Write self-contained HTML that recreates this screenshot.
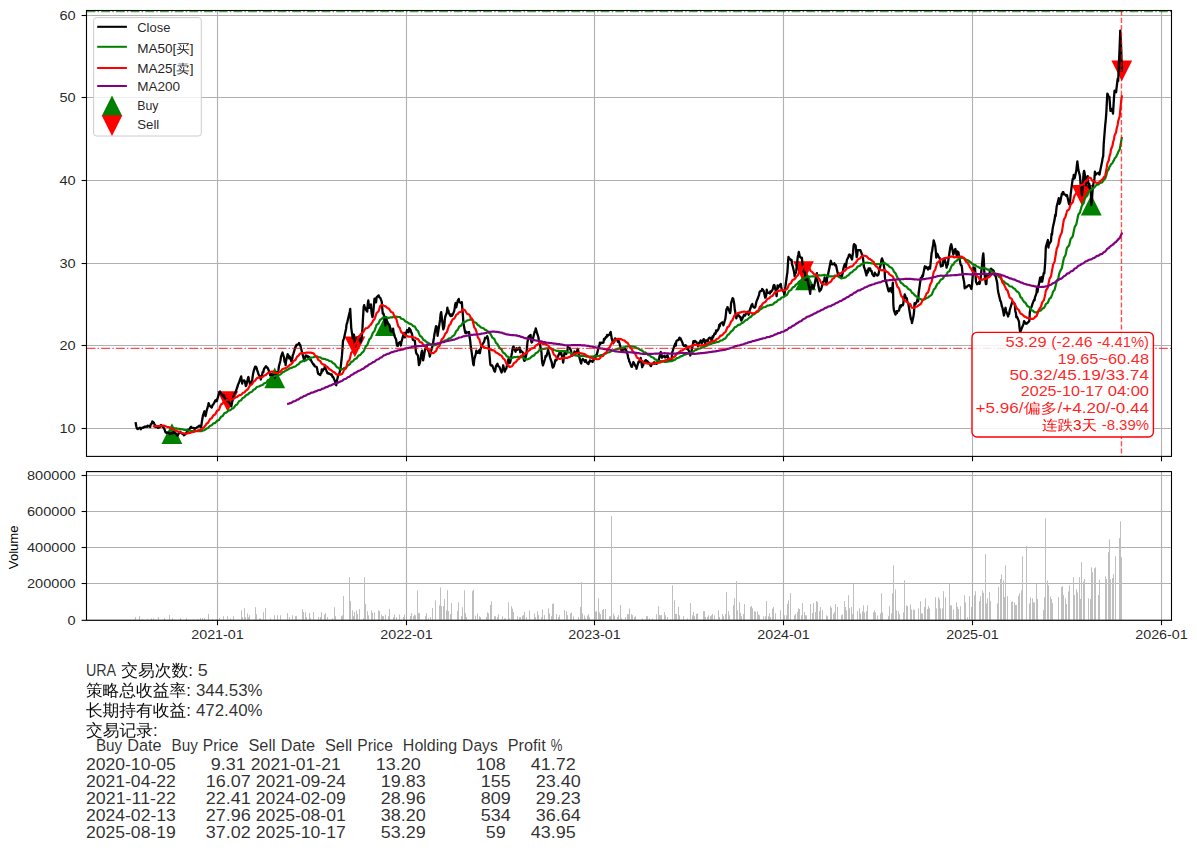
<!DOCTYPE html>
<html><head><meta charset="utf-8"><title>URA</title>
<style>html,body{margin:0;padding:0;background:#fff;}body{width:1197px;height:852px;overflow:hidden;position:relative;}</style>
</head><body>
<svg width="1197" height="852" viewBox="0 0 1197 852" style="position:absolute;left:0;top:0">
<rect x="0" y="0" width="1197" height="852" fill="#ffffff"/>
<defs><clipPath id="cm"><rect x="86.5" y="10.5" width="1085.0" height="445.9"/></clipPath>
<clipPath id="cv"><rect x="86.5" y="471.6" width="1085.0" height="148.7"/></clipPath></defs>
<g stroke="#b0b0b0" stroke-width="1.1" fill="none">
<line x1="217.50" y1="10.5" x2="217.50" y2="456.4"/>
<line x1="217.50" y1="471.6" x2="217.50" y2="620.3"/>
<line x1="406.50" y1="10.5" x2="406.50" y2="456.4"/>
<line x1="406.50" y1="471.6" x2="406.50" y2="620.3"/>
<line x1="594.50" y1="10.5" x2="594.50" y2="456.4"/>
<line x1="594.50" y1="471.6" x2="594.50" y2="620.3"/>
<line x1="783.50" y1="10.5" x2="783.50" y2="456.4"/>
<line x1="783.50" y1="471.6" x2="783.50" y2="620.3"/>
<line x1="972.50" y1="10.5" x2="972.50" y2="456.4"/>
<line x1="972.50" y1="471.6" x2="972.50" y2="620.3"/>
<line x1="1161.50" y1="10.5" x2="1161.50" y2="456.4"/>
<line x1="1161.50" y1="471.6" x2="1161.50" y2="620.3"/>
<line x1="86.5" y1="428.50" x2="1171.5" y2="428.50"/>
<line x1="86.5" y1="345.50" x2="1171.5" y2="345.50"/>
<line x1="86.5" y1="263.50" x2="1171.5" y2="263.50"/>
<line x1="86.5" y1="180.50" x2="1171.5" y2="180.50"/>
<line x1="86.5" y1="97.50" x2="1171.5" y2="97.50"/>
<line x1="86.5" y1="15.50" x2="1171.5" y2="15.50"/>
<line x1="86.5" y1="620.30" x2="1171.5" y2="620.30"/>
<line x1="86.5" y1="583.50" x2="1171.5" y2="583.50"/>
<line x1="86.5" y1="547.50" x2="1171.5" y2="547.50"/>
<line x1="86.5" y1="511.50" x2="1171.5" y2="511.50"/>
<line x1="86.5" y1="475.50" x2="1171.5" y2="475.50"/>
</g>
<g fill="#bfbfbf" clip-path="url(#cv)">
<rect x="135.0" y="617.1" width="1" height="3.2"/>
<rect x="139.0" y="616.2" width="1" height="4.1"/>
<rect x="142.0" y="619.2" width="1" height="1.1"/>
<rect x="147.0" y="619.2" width="1" height="1.1"/>
<rect x="151.0" y="618.4" width="1" height="1.9"/>
<rect x="153.0" y="618.4" width="1" height="1.9"/>
<rect x="158.0" y="617.1" width="1" height="3.2"/>
<rect x="164.0" y="618.0" width="1" height="2.3"/>
<rect x="169.0" y="615.0" width="1" height="5.3"/>
<rect x="172.0" y="618.0" width="1" height="2.3"/>
<rect x="180.0" y="618.0" width="1" height="2.3"/>
<rect x="186.0" y="618.4" width="1" height="1.9"/>
<rect x="193.0" y="619.2" width="1" height="1.1"/>
<rect x="197.0" y="619.2" width="1" height="1.1"/>
<rect x="200.0" y="618.0" width="1" height="2.3"/>
<rect x="202.0" y="618.0" width="1" height="2.3"/>
<rect x="204.0" y="618.0" width="1" height="2.3"/>
<rect x="208.0" y="614.0" width="1" height="6.3"/>
<rect x="212.0" y="619.2" width="1" height="1.1"/>
<rect x="216.0" y="619.2" width="1" height="1.1"/>
<rect x="219.0" y="618.0" width="1" height="2.3"/>
<rect x="223.0" y="616.2" width="1" height="4.1"/>
<rect x="227.0" y="616.2" width="1" height="4.1"/>
<rect x="230.0" y="618.4" width="1" height="1.9"/>
<rect x="233.0" y="616.2" width="1" height="4.1"/>
<rect x="241.0" y="610.2" width="1" height="10.1"/>
<rect x="242.0" y="617.1" width="1" height="3.2"/>
<rect x="244.0" y="608.1" width="1" height="12.2"/>
<rect x="245.0" y="617.1" width="1" height="3.2"/>
<rect x="247.0" y="613.4" width="1" height="6.9"/>
<rect x="248.0" y="617.1" width="1" height="3.2"/>
<rect x="249.0" y="615.2" width="1" height="5.1"/>
<rect x="255.0" y="607.2" width="1" height="13.1"/>
<rect x="256.0" y="614.2" width="1" height="6.1"/>
<rect x="259.0" y="618.4" width="1" height="1.9"/>
<rect x="260.0" y="618.4" width="1" height="1.9"/>
<rect x="263.0" y="612.2" width="1" height="8.1"/>
<rect x="265.0" y="608.1" width="1" height="12.2"/>
<rect x="270.0" y="618.3" width="1" height="2.0"/>
<rect x="274.0" y="615.2" width="1" height="5.1"/>
<rect x="277.0" y="615.2" width="1" height="5.1"/>
<rect x="280.0" y="615.3" width="1" height="5.0"/>
<rect x="287.0" y="613.1" width="1" height="7.2"/>
<rect x="289.0" y="617.0" width="1" height="3.3"/>
<rect x="292.0" y="615.3" width="1" height="5.0"/>
<rect x="295.0" y="616.1" width="1" height="4.2"/>
<rect x="296.0" y="616.1" width="1" height="4.2"/>
<rect x="302.0" y="609.1" width="1" height="11.2"/>
<rect x="303.0" y="612.0" width="1" height="8.3"/>
<rect x="305.0" y="612.3" width="1" height="8.0"/>
<rect x="306.0" y="617.0" width="1" height="3.3"/>
<rect x="309.0" y="613.1" width="1" height="7.2"/>
<rect x="310.0" y="617.8" width="1" height="2.5"/>
<rect x="313.0" y="612.0" width="1" height="8.3"/>
<rect x="318.0" y="617.0" width="1" height="3.3"/>
<rect x="320.0" y="617.0" width="1" height="3.3"/>
<rect x="321.0" y="612.0" width="1" height="8.3"/>
<rect x="324.0" y="614.5" width="1" height="5.8"/>
<rect x="325.0" y="613.1" width="1" height="7.2"/>
<rect x="327.0" y="617.0" width="1" height="3.3"/>
<rect x="332.0" y="618.3" width="1" height="2.0"/>
<rect x="334.0" y="607.3" width="1" height="13.0"/>
<rect x="335.0" y="616.1" width="1" height="4.2"/>
<rect x="341.0" y="616.1" width="1" height="4.2"/>
<rect x="342.0" y="615.3" width="1" height="5.0"/>
<rect x="343.0" y="596.1" width="1" height="24.2"/>
<rect x="349.0" y="577.4" width="1" height="42.9"/>
<rect x="350.0" y="601.1" width="1" height="19.2"/>
<rect x="352.0" y="610.3" width="1" height="10.0"/>
<rect x="353.0" y="616.1" width="1" height="4.2"/>
<rect x="354.0" y="612.0" width="1" height="8.3"/>
<rect x="356.0" y="610.3" width="1" height="10.0"/>
<rect x="357.0" y="614.1" width="1" height="6.2"/>
<rect x="359.0" y="609.1" width="1" height="11.2"/>
<rect x="363.0" y="618.3" width="1" height="2.0"/>
<rect x="364.0" y="577.4" width="1" height="42.9"/>
<rect x="365.0" y="604.1" width="1" height="16.2"/>
<rect x="367.0" y="611.1" width="1" height="9.2"/>
<rect x="368.0" y="615.3" width="1" height="5.0"/>
<rect x="371.0" y="610.3" width="1" height="10.0"/>
<rect x="372.0" y="612.8" width="1" height="7.5"/>
<rect x="374.0" y="612.3" width="1" height="8.0"/>
<rect x="378.0" y="610.3" width="1" height="10.0"/>
<rect x="379.0" y="611.1" width="1" height="9.2"/>
<rect x="381.0" y="614.5" width="1" height="5.8"/>
<rect x="382.0" y="616.1" width="1" height="4.2"/>
<rect x="383.0" y="616.1" width="1" height="4.2"/>
<rect x="385.0" y="614.5" width="1" height="5.8"/>
<rect x="388.0" y="616.1" width="1" height="4.2"/>
<rect x="389.0" y="609.1" width="1" height="11.2"/>
<rect x="393.0" y="617.0" width="1" height="3.3"/>
<rect x="394.0" y="614.5" width="1" height="5.8"/>
<rect x="396.0" y="617.0" width="1" height="3.3"/>
<rect x="399.0" y="614.5" width="1" height="5.8"/>
<rect x="403.0" y="617.0" width="1" height="3.3"/>
<rect x="404.0" y="614.5" width="1" height="5.8"/>
<rect x="410.0" y="616.1" width="1" height="4.2"/>
<rect x="411.0" y="613.1" width="1" height="7.2"/>
<rect x="413.0" y="616.1" width="1" height="4.2"/>
<rect x="414.0" y="614.5" width="1" height="5.8"/>
<rect x="415.0" y="615.3" width="1" height="5.0"/>
<rect x="417.0" y="590.3" width="1" height="30.0"/>
<rect x="418.0" y="613.1" width="1" height="7.2"/>
<rect x="419.0" y="613.1" width="1" height="7.2"/>
<rect x="425.0" y="616.1" width="1" height="4.2"/>
<rect x="426.0" y="613.1" width="1" height="7.2"/>
<rect x="428.0" y="618.3" width="1" height="2.0"/>
<rect x="430.0" y="617.0" width="1" height="3.3"/>
<rect x="432.0" y="608.1" width="1" height="12.2"/>
<rect x="435.0" y="600.3" width="1" height="20.0"/>
<rect x="439.0" y="605.3" width="1" height="15.0"/>
<rect x="440.0" y="587.4" width="1" height="32.9"/>
<rect x="441.0" y="606.1" width="1" height="14.2"/>
<rect x="443.0" y="606.1" width="1" height="14.2"/>
<rect x="444.0" y="599.1" width="1" height="21.2"/>
<rect x="446.0" y="610.3" width="1" height="10.0"/>
<rect x="447.0" y="590.3" width="1" height="30.0"/>
<rect x="448.0" y="611.1" width="1" height="9.2"/>
<rect x="450.0" y="614.1" width="1" height="6.2"/>
<rect x="451.0" y="603.1" width="1" height="17.2"/>
<rect x="457.0" y="611.1" width="1" height="9.2"/>
<rect x="458.0" y="602.3" width="1" height="18.0"/>
<rect x="461.0" y="616.1" width="1" height="4.2"/>
<rect x="462.0" y="607.3" width="1" height="13.0"/>
<rect x="464.0" y="590.3" width="1" height="30.0"/>
<rect x="465.0" y="613.1" width="1" height="7.2"/>
<rect x="466.0" y="617.0" width="1" height="3.3"/>
<rect x="472.0" y="591.2" width="1" height="29.1"/>
<rect x="473.0" y="589.5" width="1" height="30.8"/>
<rect x="475.0" y="615.7" width="1" height="4.6"/>
<rect x="477.0" y="613.4" width="1" height="6.9"/>
<rect x="479.0" y="616.2" width="1" height="4.1"/>
<rect x="480.0" y="617.1" width="1" height="3.2"/>
<rect x="486.0" y="617.1" width="1" height="3.2"/>
<rect x="487.0" y="612.4" width="1" height="7.9"/>
<rect x="488.0" y="613.4" width="1" height="6.9"/>
<rect x="490.0" y="605.0" width="1" height="15.3"/>
<rect x="491.0" y="601.2" width="1" height="19.1"/>
<rect x="494.0" y="616.2" width="1" height="4.1"/>
<rect x="495.0" y="616.2" width="1" height="4.1"/>
<rect x="497.0" y="617.1" width="1" height="3.2"/>
<rect x="498.0" y="614.2" width="1" height="6.1"/>
<rect x="502.0" y="616.2" width="1" height="4.1"/>
<rect x="504.0" y="618.4" width="1" height="1.9"/>
<rect x="505.0" y="618.4" width="1" height="1.9"/>
<rect x="508.0" y="602.4" width="1" height="17.9"/>
<rect x="509.0" y="618.4" width="1" height="1.9"/>
<rect x="511.0" y="606.2" width="1" height="14.1"/>
<rect x="512.0" y="608.7" width="1" height="11.6"/>
<rect x="513.0" y="612.0" width="1" height="8.3"/>
<rect x="517.0" y="616.2" width="1" height="4.1"/>
<rect x="519.0" y="617.1" width="1" height="3.2"/>
<rect x="520.0" y="617.1" width="1" height="3.2"/>
<rect x="522.0" y="615.7" width="1" height="4.6"/>
<rect x="523.0" y="615.1" width="1" height="5.2"/>
<rect x="524.0" y="612.0" width="1" height="8.3"/>
<rect x="526.0" y="617.1" width="1" height="3.2"/>
<rect x="529.0" y="610.4" width="1" height="9.9"/>
<rect x="534.0" y="613.4" width="1" height="6.9"/>
<rect x="535.0" y="617.1" width="1" height="3.2"/>
<rect x="537.0" y="611.2" width="1" height="9.1"/>
<rect x="538.0" y="615.1" width="1" height="5.2"/>
<rect x="541.0" y="617.1" width="1" height="3.2"/>
<rect x="542.0" y="609.5" width="1" height="10.8"/>
<rect x="544.0" y="615.1" width="1" height="5.2"/>
<rect x="548.0" y="608.4" width="1" height="11.9"/>
<rect x="549.0" y="613.4" width="1" height="6.9"/>
<rect x="551.0" y="616.2" width="1" height="4.1"/>
<rect x="552.0" y="604.0" width="1" height="16.3"/>
<rect x="553.0" y="603.4" width="1" height="16.9"/>
<rect x="556.0" y="614.2" width="1" height="6.1"/>
<rect x="558.0" y="617.1" width="1" height="3.2"/>
<rect x="559.0" y="615.1" width="1" height="5.2"/>
<rect x="564.0" y="610.0" width="1" height="10.3"/>
<rect x="566.0" y="611.2" width="1" height="9.1"/>
<rect x="567.0" y="615.1" width="1" height="5.2"/>
<rect x="570.0" y="613.4" width="1" height="6.9"/>
<rect x="571.0" y="612.4" width="1" height="7.9"/>
<rect x="573.0" y="616.2" width="1" height="4.1"/>
<rect x="578.0" y="617.1" width="1" height="3.2"/>
<rect x="580.0" y="607.0" width="1" height="13.3"/>
<rect x="581.0" y="582.0" width="1" height="38.3"/>
<rect x="582.0" y="613.4" width="1" height="6.9"/>
<rect x="584.0" y="615.4" width="1" height="4.9"/>
<rect x="585.0" y="618.4" width="1" height="1.9"/>
<rect x="587.0" y="615.7" width="1" height="4.6"/>
<rect x="588.0" y="614.2" width="1" height="6.1"/>
<rect x="589.0" y="617.1" width="1" height="3.2"/>
<rect x="595.0" y="611.7" width="1" height="8.6"/>
<rect x="596.0" y="611.2" width="1" height="9.1"/>
<rect x="598.0" y="598.3" width="1" height="22.0"/>
<rect x="599.0" y="612.4" width="1" height="7.9"/>
<rect x="600.0" y="614.2" width="1" height="6.1"/>
<rect x="602.0" y="610.0" width="1" height="10.3"/>
<rect x="603.0" y="609.0" width="1" height="11.3"/>
<rect x="605.0" y="609.0" width="1" height="11.3"/>
<rect x="609.0" y="616.2" width="1" height="4.1"/>
<rect x="610.0" y="616.2" width="1" height="4.1"/>
<rect x="611.0" y="516.0" width="1" height="104.3"/>
<rect x="613.0" y="613.4" width="1" height="6.9"/>
<rect x="614.0" y="615.7" width="1" height="4.6"/>
<rect x="617.0" y="617.1" width="1" height="3.2"/>
<rect x="618.0" y="615.1" width="1" height="5.2"/>
<rect x="620.0" y="605.0" width="1" height="15.3"/>
<rect x="621.0" y="618.4" width="1" height="1.9"/>
<rect x="625.0" y="617.1" width="1" height="3.2"/>
<rect x="627.0" y="614.2" width="1" height="6.1"/>
<rect x="628.0" y="614.2" width="1" height="6.1"/>
<rect x="629.0" y="608.4" width="1" height="11.9"/>
<rect x="631.0" y="614.2" width="1" height="6.1"/>
<rect x="632.0" y="615.1" width="1" height="5.2"/>
<rect x="634.0" y="617.1" width="1" height="3.2"/>
<rect x="635.0" y="616.2" width="1" height="4.1"/>
<rect x="642.0" y="618.4" width="1" height="1.9"/>
<rect x="646.0" y="616.2" width="1" height="4.1"/>
<rect x="647.0" y="616.2" width="1" height="4.1"/>
<rect x="649.0" y="618.4" width="1" height="1.9"/>
<rect x="652.0" y="618.4" width="1" height="1.9"/>
<rect x="656.0" y="614.2" width="1" height="6.1"/>
<rect x="658.0" y="606.2" width="1" height="14.1"/>
<rect x="659.0" y="615.1" width="1" height="5.2"/>
<rect x="660.0" y="615.3" width="1" height="5.0"/>
<rect x="661.0" y="615.1" width="1" height="5.2"/>
<rect x="664.0" y="612.0" width="1" height="8.3"/>
<rect x="665.0" y="615.3" width="1" height="5.0"/>
<rect x="667.0" y="617.0" width="1" height="3.3"/>
<rect x="672.0" y="585.3" width="1" height="35.0"/>
<rect x="674.0" y="600.3" width="1" height="20.0"/>
<rect x="675.0" y="614.0" width="1" height="6.3"/>
<rect x="676.0" y="614.0" width="1" height="6.3"/>
<rect x="678.0" y="607.0" width="1" height="13.3"/>
<rect x="679.0" y="615.3" width="1" height="5.0"/>
<rect x="683.0" y="616.2" width="1" height="4.1"/>
<rect x="687.0" y="618.3" width="1" height="2.0"/>
<rect x="690.0" y="603.1" width="1" height="17.2"/>
<rect x="692.0" y="615.3" width="1" height="5.0"/>
<rect x="693.0" y="612.0" width="1" height="8.3"/>
<rect x="694.0" y="616.2" width="1" height="4.1"/>
<rect x="696.0" y="614.0" width="1" height="6.3"/>
<rect x="697.0" y="613.3" width="1" height="7.0"/>
<rect x="703.0" y="611.2" width="1" height="9.1"/>
<rect x="704.0" y="611.2" width="1" height="9.1"/>
<rect x="705.0" y="617.0" width="1" height="3.3"/>
<rect x="707.0" y="617.0" width="1" height="3.3"/>
<rect x="708.0" y="615.3" width="1" height="5.0"/>
<rect x="710.0" y="616.2" width="1" height="4.1"/>
<rect x="711.0" y="615.3" width="1" height="5.0"/>
<rect x="712.0" y="614.0" width="1" height="6.3"/>
<rect x="714.0" y="615.3" width="1" height="5.0"/>
<rect x="718.0" y="610.3" width="1" height="10.0"/>
<rect x="719.0" y="617.0" width="1" height="3.3"/>
<rect x="722.0" y="614.0" width="1" height="6.3"/>
<rect x="723.0" y="616.2" width="1" height="4.1"/>
<rect x="725.0" y="614.0" width="1" height="6.3"/>
<rect x="726.0" y="591.9" width="1" height="28.4"/>
<rect x="728.0" y="611.2" width="1" height="9.1"/>
<rect x="729.0" y="615.3" width="1" height="5.0"/>
<rect x="733.0" y="605.3" width="1" height="15.0"/>
<rect x="734.0" y="598.1" width="1" height="22.2"/>
<rect x="736.0" y="581.1" width="1" height="39.2"/>
<rect x="737.0" y="610.3" width="1" height="10.0"/>
<rect x="739.0" y="602.0" width="1" height="18.3"/>
<rect x="740.0" y="612.8" width="1" height="7.5"/>
<rect x="741.0" y="616.2" width="1" height="4.1"/>
<rect x="743.0" y="614.0" width="1" height="6.3"/>
<rect x="744.0" y="604.1" width="1" height="16.2"/>
<rect x="750.0" y="607.0" width="1" height="13.3"/>
<rect x="751.0" y="606.1" width="1" height="14.2"/>
<rect x="752.0" y="608.3" width="1" height="12.0"/>
<rect x="754.0" y="611.2" width="1" height="9.1"/>
<rect x="755.0" y="611.7" width="1" height="8.6"/>
<rect x="757.0" y="611.2" width="1" height="9.1"/>
<rect x="758.0" y="614.5" width="1" height="5.8"/>
<rect x="759.0" y="615.3" width="1" height="5.0"/>
<rect x="763.0" y="616.2" width="1" height="4.1"/>
<rect x="765.0" y="616.2" width="1" height="4.1"/>
<rect x="766.0" y="601.1" width="1" height="19.2"/>
<rect x="768.0" y="616.2" width="1" height="4.1"/>
<rect x="769.0" y="613.3" width="1" height="7.0"/>
<rect x="770.0" y="617.0" width="1" height="3.3"/>
<rect x="772.0" y="608.7" width="1" height="11.6"/>
<rect x="773.0" y="607.0" width="1" height="13.3"/>
<rect x="775.0" y="613.3" width="1" height="7.0"/>
<rect x="780.0" y="610.3" width="1" height="10.0"/>
<rect x="784.0" y="615.3" width="1" height="5.0"/>
<rect x="786.0" y="615.3" width="1" height="5.0"/>
<rect x="787.0" y="604.0" width="1" height="16.3"/>
<rect x="788.0" y="600.3" width="1" height="20.0"/>
<rect x="790.0" y="593.1" width="1" height="27.2"/>
<rect x="794.0" y="615.3" width="1" height="5.0"/>
<rect x="795.0" y="614.0" width="1" height="6.3"/>
<rect x="797.0" y="612.0" width="1" height="8.3"/>
<rect x="798.0" y="608.2" width="1" height="12.1"/>
<rect x="799.0" y="609.0" width="1" height="11.3"/>
<rect x="801.0" y="615.3" width="1" height="5.0"/>
<rect x="802.0" y="603.1" width="1" height="17.2"/>
<rect x="804.0" y="612.0" width="1" height="8.3"/>
<rect x="805.0" y="615.3" width="1" height="5.0"/>
<rect x="806.0" y="615.3" width="1" height="5.0"/>
<rect x="810.0" y="604.1" width="1" height="16.2"/>
<rect x="812.0" y="612.8" width="1" height="7.5"/>
<rect x="813.0" y="603.1" width="1" height="17.2"/>
<rect x="815.0" y="612.0" width="1" height="8.3"/>
<rect x="816.0" y="601.1" width="1" height="19.2"/>
<rect x="817.0" y="602.0" width="1" height="18.3"/>
<rect x="819.0" y="611.2" width="1" height="9.1"/>
<rect x="820.0" y="607.0" width="1" height="13.3"/>
<rect x="822.0" y="610.3" width="1" height="10.0"/>
<rect x="826.0" y="615.3" width="1" height="5.0"/>
<rect x="827.0" y="616.2" width="1" height="4.1"/>
<rect x="830.0" y="606.1" width="1" height="14.2"/>
<rect x="831.0" y="607.8" width="1" height="12.5"/>
<rect x="833.0" y="613.7" width="1" height="6.6"/>
<rect x="834.0" y="612.0" width="1" height="8.3"/>
<rect x="835.0" y="604.1" width="1" height="16.2"/>
<rect x="837.0" y="607.0" width="1" height="13.3"/>
<rect x="841.0" y="615.3" width="1" height="5.0"/>
<rect x="842.0" y="614.5" width="1" height="5.8"/>
<rect x="844.0" y="601.1" width="1" height="19.2"/>
<rect x="845.0" y="607.0" width="1" height="13.3"/>
<rect x="846.0" y="610.3" width="1" height="10.0"/>
<rect x="848.0" y="595.3" width="1" height="25.0"/>
<rect x="849.0" y="608.2" width="1" height="12.1"/>
<rect x="851.0" y="607.0" width="1" height="13.3"/>
<rect x="852.0" y="614.0" width="1" height="6.3"/>
<rect x="853.0" y="583.6" width="1" height="36.7"/>
<rect x="857.0" y="611.2" width="1" height="9.1"/>
<rect x="859.0" y="608.4" width="1" height="11.9"/>
<rect x="860.0" y="613.4" width="1" height="6.9"/>
<rect x="862.0" y="611.2" width="1" height="9.1"/>
<rect x="863.0" y="605.4" width="1" height="14.9"/>
<rect x="864.0" y="612.4" width="1" height="7.9"/>
<rect x="866.0" y="611.2" width="1" height="9.1"/>
<rect x="867.0" y="605.4" width="1" height="14.9"/>
<rect x="873.0" y="612.4" width="1" height="7.9"/>
<rect x="874.0" y="610.4" width="1" height="9.9"/>
<rect x="875.0" y="612.4" width="1" height="7.9"/>
<rect x="877.0" y="615.4" width="1" height="4.9"/>
<rect x="880.0" y="613.4" width="1" height="6.9"/>
<rect x="881.0" y="593.3" width="1" height="27.0"/>
<rect x="882.0" y="612.4" width="1" height="7.9"/>
<rect x="888.0" y="616.2" width="1" height="4.1"/>
<rect x="889.0" y="606.2" width="1" height="14.1"/>
<rect x="891.0" y="613.4" width="1" height="6.9"/>
<rect x="892.0" y="593.3" width="1" height="27.0"/>
<rect x="893.0" y="565.3" width="1" height="55.0"/>
<rect x="895.0" y="589.5" width="1" height="30.8"/>
<rect x="896.0" y="610.4" width="1" height="9.9"/>
<rect x="898.0" y="611.2" width="1" height="9.1"/>
<rect x="899.0" y="614.2" width="1" height="6.1"/>
<rect x="903.0" y="612.4" width="1" height="7.9"/>
<rect x="904.0" y="580.3" width="1" height="40.0"/>
<rect x="906.0" y="605.4" width="1" height="14.9"/>
<rect x="907.0" y="606.2" width="1" height="14.1"/>
<rect x="910.0" y="604.5" width="1" height="15.8"/>
<rect x="911.0" y="609.5" width="1" height="10.8"/>
<rect x="913.0" y="609.5" width="1" height="10.8"/>
<rect x="914.0" y="610.0" width="1" height="10.3"/>
<rect x="918.0" y="608.4" width="1" height="11.9"/>
<rect x="920.0" y="601.2" width="1" height="19.1"/>
<rect x="921.0" y="613.4" width="1" height="6.9"/>
<rect x="922.0" y="613.4" width="1" height="6.9"/>
<rect x="924.0" y="607.0" width="1" height="13.3"/>
<rect x="925.0" y="598.3" width="1" height="22.0"/>
<rect x="927.0" y="609.0" width="1" height="11.3"/>
<rect x="928.0" y="606.2" width="1" height="14.1"/>
<rect x="929.0" y="608.4" width="1" height="11.9"/>
<rect x="935.0" y="597.3" width="1" height="23.0"/>
<rect x="936.0" y="608.4" width="1" height="11.9"/>
<rect x="938.0" y="597.3" width="1" height="23.0"/>
<rect x="939.0" y="599.5" width="1" height="20.8"/>
<rect x="940.0" y="608.4" width="1" height="11.9"/>
<rect x="942.0" y="608.4" width="1" height="11.9"/>
<rect x="943.0" y="591.2" width="1" height="29.1"/>
<rect x="945.0" y="597.3" width="1" height="23.0"/>
<rect x="949.0" y="584.0" width="1" height="36.3"/>
<rect x="950.0" y="605.4" width="1" height="14.9"/>
<rect x="951.0" y="605.4" width="1" height="14.9"/>
<rect x="953.0" y="609.5" width="1" height="10.8"/>
<rect x="956.0" y="602.4" width="1" height="17.9"/>
<rect x="957.0" y="607.0" width="1" height="13.3"/>
<rect x="958.0" y="609.0" width="1" height="11.3"/>
<rect x="960.0" y="606.2" width="1" height="14.1"/>
<rect x="964.0" y="595.3" width="1" height="25.0"/>
<rect x="965.0" y="602.4" width="1" height="17.9"/>
<rect x="967.0" y="617.1" width="1" height="3.2"/>
<rect x="969.0" y="596.2" width="1" height="24.1"/>
<rect x="971.0" y="607.0" width="1" height="13.3"/>
<rect x="974.0" y="595.3" width="1" height="25.0"/>
<rect x="975.0" y="591.2" width="1" height="29.1"/>
<rect x="979.0" y="601.2" width="1" height="19.1"/>
<rect x="980.0" y="596.2" width="1" height="24.1"/>
<rect x="982.0" y="590.3" width="1" height="30.0"/>
<rect x="983.0" y="592.8" width="1" height="27.5"/>
<rect x="985.0" y="554.1" width="1" height="66.2"/>
<rect x="986.0" y="603.4" width="1" height="16.9"/>
<rect x="987.0" y="598.3" width="1" height="22.0"/>
<rect x="989.0" y="592.0" width="1" height="28.3"/>
<rect x="990.0" y="601.2" width="1" height="19.1"/>
<rect x="997.0" y="603.4" width="1" height="16.9"/>
<rect x="998.0" y="587.0" width="1" height="33.3"/>
<rect x="1000.0" y="579.0" width="1" height="41.3"/>
<rect x="1001.0" y="574.5" width="1" height="45.8"/>
<rect x="1003.0" y="580.3" width="1" height="40.0"/>
<rect x="1004.0" y="597.0" width="1" height="23.3"/>
<rect x="1005.0" y="565.3" width="1" height="55.0"/>
<rect x="1007.0" y="596.2" width="1" height="24.1"/>
<rect x="1011.0" y="602.0" width="1" height="18.3"/>
<rect x="1012.0" y="601.2" width="1" height="19.1"/>
<rect x="1014.0" y="602.4" width="1" height="17.9"/>
<rect x="1015.0" y="605.0" width="1" height="15.3"/>
<rect x="1016.0" y="605.0" width="1" height="15.3"/>
<rect x="1018.0" y="596.2" width="1" height="24.1"/>
<rect x="1019.0" y="593.3" width="1" height="27.0"/>
<rect x="1021.0" y="590.3" width="1" height="30.0"/>
<rect x="1022.0" y="556.4" width="1" height="63.9"/>
<rect x="1026.0" y="546.0" width="1" height="74.3"/>
<rect x="1029.0" y="603.4" width="1" height="16.9"/>
<rect x="1030.0" y="597.3" width="1" height="23.0"/>
<rect x="1032.0" y="598.3" width="1" height="22.0"/>
<rect x="1033.0" y="602.4" width="1" height="17.9"/>
<rect x="1034.0" y="602.4" width="1" height="17.9"/>
<rect x="1036.0" y="584.0" width="1" height="36.3"/>
<rect x="1037.0" y="599.0" width="1" height="21.3"/>
<rect x="1043.0" y="610.0" width="1" height="10.3"/>
<rect x="1044.0" y="597.3" width="1" height="23.0"/>
<rect x="1045.0" y="518.3" width="1" height="102.0"/>
<rect x="1047.0" y="580.5" width="1" height="39.8"/>
<rect x="1048.0" y="585.3" width="1" height="35.0"/>
<rect x="1050.0" y="596.5" width="1" height="23.8"/>
<rect x="1051.0" y="599.0" width="1" height="21.3"/>
<rect x="1052.0" y="603.1" width="1" height="17.2"/>
<rect x="1058.0" y="597.2" width="1" height="23.1"/>
<rect x="1061.0" y="587.1" width="1" height="33.2"/>
<rect x="1062.0" y="586.2" width="1" height="34.1"/>
<rect x="1063.0" y="595.1" width="1" height="25.2"/>
<rect x="1065.0" y="598.3" width="1" height="22.0"/>
<rect x="1066.0" y="604.0" width="1" height="16.3"/>
<rect x="1068.0" y="591.5" width="1" height="28.8"/>
<rect x="1069.0" y="585.3" width="1" height="35.0"/>
<rect x="1073.0" y="577.2" width="1" height="43.1"/>
<rect x="1074.0" y="595.1" width="1" height="25.2"/>
<rect x="1076.0" y="589.4" width="1" height="30.9"/>
<rect x="1077.0" y="592.4" width="1" height="27.9"/>
<rect x="1079.0" y="577.2" width="1" height="43.1"/>
<rect x="1080.0" y="599.0" width="1" height="21.3"/>
<rect x="1081.0" y="562.1" width="1" height="58.2"/>
<rect x="1083.0" y="581.7" width="1" height="38.6"/>
<rect x="1084.0" y="579.0" width="1" height="41.3"/>
<rect x="1088.0" y="598.3" width="1" height="22.0"/>
<rect x="1090.0" y="599.0" width="1" height="21.3"/>
<rect x="1091.0" y="567.4" width="1" height="52.9"/>
<rect x="1092.0" y="572.2" width="1" height="48.1"/>
<rect x="1094.0" y="568.3" width="1" height="52.0"/>
<rect x="1095.0" y="567.4" width="1" height="52.9"/>
<rect x="1098.0" y="595.1" width="1" height="25.2"/>
<rect x="1099.0" y="579.4" width="1" height="40.9"/>
<rect x="1105.0" y="576.3" width="1" height="44.0"/>
<rect x="1106.0" y="579.0" width="1" height="41.3"/>
<rect x="1108.0" y="552.2" width="1" height="68.1"/>
<rect x="1109.0" y="539.4" width="1" height="80.9"/>
<rect x="1110.0" y="579.4" width="1" height="40.9"/>
<rect x="1112.0" y="578.1" width="1" height="42.2"/>
<rect x="1113.0" y="574.2" width="1" height="46.1"/>
<rect x="1115.0" y="556.3" width="1" height="64.0"/>
<rect x="1119.0" y="538.0" width="1" height="82.3"/>
<rect x="1120.0" y="521.3" width="1" height="99.0"/>
<rect x="1121.0" y="557.2" width="1" height="63.1"/>
</g>
<g clip-path="url(#cm)">
<polygon fill="#008000" points="171.92,423.29 161.52,444.09 182.32,444.09"/>
<polygon fill="#008000" points="274.76,367.53 264.36,388.33 285.16,388.33"/>
<polygon fill="#008000" points="385.36,315.23 374.96,336.03 395.76,336.03"/>
<polygon fill="#008000" points="805.52,269.45 795.12,290.25 815.92,290.25"/>
<polygon fill="#008000" points="1091.31,194.71 1080.91,215.51 1101.71,215.51"/>
<polygon fill="#ff0000" points="227.74,412.00 217.34,391.20 238.14,391.20"/>
<polygon fill="#ff0000" points="354.87,357.31 344.47,336.51 365.27,336.51"/>
<polygon fill="#ff0000" points="803.45,282.00 793.05,261.20 813.85,261.20"/>
<polygon fill="#ff0000" points="1082.01,205.78 1071.61,184.98 1092.41,184.98"/>
<polygon fill="#ff0000" points="1121.80,81.30 1111.40,60.50 1132.20,60.50"/>
<polyline fill="none" stroke="#000000" stroke-width="2.3" stroke-linejoin="round" stroke-linecap="square" points="135.75,423.20 136.26,426.27 136.78,428.02 137.30,428.89 137.81,429.01 139.88,427.63 140.40,427.97 140.91,429.23 141.43,428.09 142.98,427.50 143.50,427.77 144.01,427.20 144.53,426.61 145.05,426.81 146.60,426.30 147.12,426.87 147.63,425.67 148.15,425.89 148.67,426.02 150.22,427.11 150.73,424.35 151.25,424.17 151.77,423.47 152.28,421.44 153.83,422.63 154.35,423.91 154.87,424.98 155.38,427.04 155.90,425.73 157.97,427.93 158.48,427.68 159.00,426.28 159.52,427.35 161.07,424.91 161.59,425.94 162.10,425.85 162.62,427.14 163.14,426.70 164.69,429.66 165.20,431.78 165.72,432.21 166.24,432.98 166.75,432.44 168.30,432.61 169.34,433.66 169.85,434.04 170.37,433.27 171.92,433.69 172.44,432.93 172.96,433.08 173.47,431.67 173.99,432.76 175.54,433.58 176.06,433.79 176.57,434.38 177.09,434.86 177.61,435.79 179.16,432.56 179.67,432.53 180.19,431.71 180.71,432.34 181.22,432.96 182.77,433.97 183.29,434.21 183.81,435.36 184.32,435.06 184.84,434.67 186.39,432.83 186.91,431.86 187.43,431.71 187.94,429.79 188.46,430.21 190.01,428.50 190.53,427.29 191.04,426.80 191.56,427.85 192.08,427.68 193.63,427.84 194.14,428.47 194.66,429.41 195.18,428.19 195.69,428.15 197.24,427.34 198.28,426.52 199.31,425.62 200.86,427.38 201.38,425.30 201.90,421.56 202.41,418.48 202.93,415.70 204.48,411.24 205.00,412.20 205.51,416.12 206.03,414.00 206.55,411.09 208.10,405.59 208.61,403.13 209.13,404.49 209.65,405.71 210.16,406.19 211.72,407.55 212.23,405.97 212.75,404.60 213.27,404.52 215.33,400.47 215.85,401.31 216.37,399.96 216.88,400.95 218.95,393.37 219.47,392.08 219.98,391.46 220.50,392.53 221.02,393.49 222.57,395.20 223.08,396.34 223.60,395.08 224.12,395.82 224.64,397.88 226.70,400.72 227.22,399.17 227.74,401.60 228.25,401.57 230.32,404.10 230.84,405.34 231.35,406.37 231.87,403.53 233.42,396.35 233.94,395.21 234.45,393.53 234.97,392.81 235.49,392.28 237.04,387.81 237.56,386.48 238.07,384.36 238.59,383.51 239.11,382.24 241.17,376.35 241.69,380.37 242.21,383.62 242.72,380.89 244.27,380.31 244.79,381.08 245.31,383.73 245.82,386.00 246.34,385.33 247.89,378.41 248.41,376.98 248.92,379.58 249.44,381.25 249.96,384.41 251.51,382.26 252.03,381.29 252.54,377.42 253.06,374.13 253.58,371.42 255.13,366.70 255.64,368.37 256.16,366.95 256.68,368.21 257.19,370.08 258.74,374.77 259.78,376.32 260.29,376.81 260.81,379.54 262.36,373.64 262.88,371.66 263.40,371.82 263.91,369.18 265.98,366.10 266.50,366.76 267.01,367.66 267.53,367.62 268.05,368.79 269.60,372.61 270.11,375.32 270.63,374.82 271.15,374.07 271.66,374.64 273.21,376.85 273.73,375.28 274.25,376.44 274.76,377.93 275.28,375.73 276.83,372.31 277.35,372.42 277.87,373.33 278.38,370.72 278.90,366.50 280.45,360.51 280.97,356.80 281.48,355.31 282.00,354.02 282.52,352.53 284.07,357.77 284.58,361.74 285.10,360.51 285.62,365.08 286.13,360.61 287.68,354.20 288.20,355.13 289.24,358.44 289.75,356.49 291.30,361.47 291.82,360.65 292.34,357.95 292.85,355.07 293.37,353.82 295.44,346.78 295.95,346.58 296.47,344.76 296.99,345.08 298.54,343.92 299.05,342.94 299.57,344.67 300.09,344.59 300.60,346.48 302.16,352.74 302.67,354.42 303.19,356.97 303.71,358.51 304.22,361.07 305.77,355.39 306.29,355.98 306.81,355.67 307.32,356.90 307.84,356.24 309.39,357.27 309.91,359.58 310.42,359.80 310.94,359.86 311.46,361.25 313.52,364.79 314.04,364.44 314.56,366.25 315.08,366.30 316.63,366.94 317.14,368.72 317.66,371.82 318.18,373.71 320.24,375.02 320.76,373.46 321.28,373.13 321.79,369.41 322.31,371.55 323.86,368.79 324.38,368.81 324.89,365.34 325.41,368.43 325.93,369.33 327.48,373.41 328.00,372.80 328.51,373.35 329.03,373.81 329.55,373.69 331.10,374.83 331.61,374.29 332.13,376.01 332.65,377.14 333.16,376.96 334.71,380.67 335.23,382.26 335.75,384.72 336.26,385.17 336.78,381.31 338.33,374.75 338.85,374.44 339.36,373.43 339.88,371.16 340.40,369.97 341.95,355.63 342.47,349.13 342.98,341.17 343.50,339.55 344.02,338.33 346.08,328.67 346.60,324.16 347.12,323.11 347.63,320.85 349.70,312.01 350.22,308.97 350.73,318.60 351.25,328.12 352.80,338.40 353.32,336.13 353.84,334.50 354.35,336.64 354.87,346.91 356.42,340.88 356.94,340.44 357.45,337.25 357.97,337.75 358.49,339.11 360.04,340.00 360.55,342.34 361.07,340.72 361.59,338.08 362.10,334.13 363.65,306.99 364.17,305.12 364.69,308.47 365.20,307.57 365.72,309.54 367.27,311.62 367.79,303.55 368.31,300.45 368.82,304.98 369.34,307.93 370.89,304.42 371.41,311.23 371.92,314.86 372.44,317.09 372.96,315.67 374.51,298.67 375.02,300.42 375.54,302.35 376.06,302.35 376.57,297.27 378.64,295.37 379.16,297.23 379.68,297.40 380.19,297.69 381.74,301.61 382.26,308.24 382.78,313.66 383.29,313.18 383.81,314.71 385.36,325.63 385.88,317.19 386.39,318.96 387.43,322.73 388.98,324.77 389.49,325.10 390.01,328.29 390.53,331.16 391.04,331.29 392.60,331.80 393.11,328.62 393.63,332.79 394.15,333.88 394.66,336.58 396.21,339.84 396.73,344.27 397.25,345.97 397.76,345.92 398.28,343.39 399.83,342.28 400.35,343.51 400.86,345.46 401.38,342.02 403.45,334.57 403.96,332.82 404.48,335.69 405.00,337.40 405.52,334.54 407.07,330.05 407.58,332.04 408.62,332.24 409.13,328.09 410.68,330.18 411.20,332.58 411.72,332.96 412.23,335.13 412.75,339.70 414.82,340.69 415.33,345.27 415.85,351.35 416.37,353.49 417.92,355.39 418.44,360.05 418.95,365.21 419.47,363.82 419.99,362.48 421.54,352.50 422.05,350.55 422.57,356.39 423.09,360.44 423.60,358.18 425.15,348.91 425.67,348.44 426.19,346.54 426.70,346.81 427.22,348.52 428.77,351.61 429.29,353.33 429.80,356.54 430.32,354.16 430.84,351.89 432.91,344.42 433.42,340.72 433.94,337.93 434.46,334.18 436.01,326.16 436.52,326.45 437.04,328.74 437.56,335.73 439.62,322.82 440.14,319.17 440.66,313.82 441.17,312.22 441.69,316.59 443.24,329.36 443.76,328.06 444.28,326.29 444.79,319.60 445.31,316.48 446.86,312.48 447.38,307.60 447.89,311.30 448.41,310.54 448.93,313.16 450.48,316.07 450.99,314.47 451.51,315.99 452.03,315.80 452.54,314.85 454.09,311.38 454.61,308.86 455.13,305.09 455.64,303.04 456.16,307.41 457.71,300.94 458.23,300.07 458.75,298.83 459.26,301.79 461.33,303.46 461.85,302.16 462.36,309.29 462.88,314.95 463.40,322.85 464.95,331.47 465.46,333.17 465.98,331.55 466.50,333.01 467.01,332.55 469.08,331.99 469.60,337.28 470.12,340.02 470.63,345.21 472.18,355.81 472.70,359.83 473.22,364.24 473.73,365.22 474.25,359.38 475.80,354.05 476.32,350.67 476.83,352.31 477.35,351.84 477.87,352.91 479.42,349.99 479.93,353.21 480.45,349.48 480.97,348.34 481.48,345.86 483.55,342.70 484.07,341.92 484.59,339.78 485.10,337.75 486.65,338.13 487.17,336.21 487.69,337.54 488.20,339.92 488.72,345.29 490.27,364.00 490.79,365.30 491.30,365.44 491.82,365.65 492.34,365.53 494.40,371.06 494.92,371.70 495.44,369.40 495.96,366.06 497.51,363.69 498.02,366.10 499.06,366.48 499.57,367.35 501.64,372.50 502.16,370.03 502.67,369.48 503.19,365.28 504.74,371.68 505.26,370.19 505.77,369.06 506.29,368.82 506.81,366.09 508.36,359.15 508.88,361.11 509.39,363.18 509.91,362.73 510.43,361.39 511.98,352.65 512.49,349.11 513.01,347.12 513.53,346.37 514.04,348.47 515.59,351.83 516.11,349.10 516.63,348.18 517.14,349.03 517.66,349.70 519.21,347.81 519.73,347.62 520.24,352.30 520.76,350.30 521.28,350.93 522.83,352.54 523.35,354.68 523.86,359.98 524.38,360.88 524.90,360.38 526.45,353.88 526.96,347.61 527.48,341.93 528.51,336.66 530.06,335.54 530.58,334.92 531.10,340.58 531.61,342.46 532.13,342.11 534.20,333.44 534.72,331.50 535.23,331.88 535.75,328.36 537.30,333.98 537.82,335.47 538.33,337.17 538.85,339.46 539.37,341.29 540.92,349.82 541.43,352.03 541.95,359.70 542.47,363.73 542.98,365.42 544.53,360.48 545.05,358.76 545.57,355.86 546.08,356.80 546.60,355.69 548.15,349.74 548.67,352.47 549.19,353.37 549.70,355.89 550.22,358.05 551.77,362.50 552.29,366.04 552.80,367.67 553.32,366.85 553.84,366.19 555.39,359.94 555.90,359.67 556.42,360.28 556.94,358.77 559.00,353.98 559.52,352.65 560.04,353.61 560.56,354.16 561.07,352.62 562.62,358.30 563.14,362.68 563.66,359.19 564.17,355.07 564.69,351.56 566.24,354.01 566.76,352.46 567.27,352.11 567.79,346.57 568.31,348.16 569.86,348.04 570.37,349.57 570.89,350.57 571.41,352.79 571.92,355.78 573.48,355.06 573.99,353.94 574.51,351.32 575.54,353.92 577.09,351.33 577.61,348.83 578.13,349.86 578.64,353.31 579.16,356.46 580.71,362.40 581.23,363.52 581.74,360.18 582.26,360.11 582.78,358.91 584.33,360.67 584.84,361.76 585.36,360.34 585.88,360.14 586.40,362.22 588.46,364.14 588.98,361.80 589.50,362.06 590.01,360.45 592.08,361.34 592.60,361.89 593.11,360.23 593.63,360.18 595.70,355.38 596.21,356.44 596.73,354.88 597.25,352.85 598.80,346.52 599.32,345.82 599.83,342.77 600.35,343.94 600.87,342.75 602.93,342.78 603.45,342.59 603.97,338.87 604.48,339.84 606.03,336.86 606.55,337.31 607.07,334.90 607.58,336.28 608.10,335.13 609.65,334.72 610.17,332.83 610.68,332.00 611.20,335.42 611.72,338.58 613.27,343.32 613.79,341.32 614.30,341.83 614.82,338.58 615.34,338.45 616.89,340.22 617.40,339.48 617.92,341.88 618.95,341.22 621.02,349.37 621.54,350.56 622.05,349.39 622.57,350.38 624.12,348.35 624.64,349.56 625.16,348.55 625.67,349.66 626.19,350.17 627.74,355.02 628.26,358.37 628.77,358.98 629.29,361.61 629.81,362.22 631.36,366.52 631.87,366.84 632.39,365.42 632.91,364.15 633.42,362.04 634.97,365.06 635.49,366.14 636.01,366.26 636.52,368.73 637.04,366.73 638.59,361.57 639.11,361.98 639.63,360.36 640.14,360.61 640.66,357.93 642.21,367.22 642.73,365.77 643.24,365.31 643.76,362.37 645.83,360.10 646.34,360.72 646.86,362.26 647.38,361.21 647.89,361.83 649.96,364.23 650.48,365.75 651.00,366.14 651.51,364.64 653.06,363.32 653.58,362.79 654.10,362.25 654.61,363.82 655.13,362.58 656.68,363.81 657.20,362.26 657.71,361.31 658.23,361.07 658.75,360.06 660.30,353.19 660.81,352.07 661.33,353.58 661.85,357.73 662.36,356.51 663.92,356.36 664.43,355.68 664.95,357.48 665.47,357.44 665.98,357.24 667.53,355.15 668.05,357.94 668.57,358.15 669.08,360.23 669.60,360.31 671.67,359.23 672.18,352.49 672.70,351.04 673.22,349.11 674.77,344.86 675.28,343.43 675.80,345.55 676.32,341.37 676.84,340.61 678.39,339.96 679.42,337.65 679.94,339.22 680.45,338.21 682.52,342.87 683.04,345.04 683.55,345.10 684.07,346.01 685.62,345.25 686.14,345.59 686.65,347.66 687.17,349.17 687.69,348.62 689.24,351.78 690.27,355.49 690.79,352.46 691.31,352.29 692.86,344.19 693.37,341.14 693.89,342.33 694.41,342.12 694.92,340.93 696.47,342.19 696.99,343.35 697.51,344.53 698.02,346.38 698.54,343.79 700.09,341.65 700.61,340.38 701.12,341.30 701.64,343.51 702.16,341.98 703.71,339.10 704.23,341.19 704.74,342.45 705.26,344.00 705.78,340.43 707.33,340.25 707.84,341.29 708.36,338.93 709.39,337.71 710.94,338.15 711.46,340.64 711.98,341.03 712.49,336.50 713.01,337.41 714.56,333.52 715.08,334.11 715.60,333.67 716.11,330.31 716.63,331.66 718.18,329.48 718.70,328.41 719.21,324.90 719.73,326.44 720.25,323.92 722.31,322.31 722.83,323.13 723.35,325.27 723.86,323.94 725.41,318.53 725.93,314.02 726.45,309.18 726.96,309.35 727.48,307.07 729.03,310.45 729.55,311.78 730.07,313.18 730.58,310.77 731.10,303.01 732.65,298.18 733.17,298.60 733.68,300.96 734.20,303.79 734.72,308.70 736.27,318.43 736.78,315.92 737.30,315.73 737.82,313.91 739.88,317.24 740.40,316.79 740.92,319.66 741.44,320.55 741.95,319.48 743.50,316.32 744.02,314.72 744.54,315.26 745.05,315.61 745.57,314.48 747.12,312.10 747.64,311.64 748.15,313.48 748.67,314.74 749.19,311.74 750.74,307.49 751.25,305.84 751.77,304.87 752.29,304.07 752.80,306.40 754.36,307.70 754.87,307.61 755.39,306.49 755.91,303.97 756.42,301.64 757.97,298.01 758.49,296.41 759.01,295.15 759.52,292.31 760.04,291.29 761.59,290.80 762.11,289.03 762.62,289.38 763.66,290.85 765.21,297.65 765.72,297.26 766.24,295.15 766.76,289.69 767.28,292.77 769.34,292.59 769.86,293.52 770.38,291.31 770.89,292.01 772.44,289.96 772.96,288.61 773.48,285.92 773.99,285.01 774.51,285.41 776.06,292.38 776.58,296.12 777.09,291.45 777.61,285.43 778.13,287.74 780.20,284.78 780.71,283.96 781.23,286.99 781.75,289.52 783.81,291.99 784.33,295.02 784.85,292.32 785.36,287.16 786.91,275.36 787.43,272.24 787.95,263.39 788.46,256.85 788.98,258.14 791.05,260.19 791.56,259.94 792.08,264.93 792.60,265.74 794.15,272.25 794.67,276.34 795.18,272.59 795.70,273.17 796.22,271.20 797.77,256.88 798.28,254.66 798.80,251.92 799.83,256.67 801.38,258.07 801.90,257.63 802.42,263.93 802.93,265.78 803.45,271.60 805.00,272.55 805.52,279.85 806.04,276.83 806.55,277.69 807.07,278.38 809.14,287.26 809.65,290.44 810.17,293.81 810.69,288.24 812.24,285.10 812.75,286.83 813.27,288.29 813.79,287.53 814.30,285.73 815.85,277.82 816.37,274.74 816.89,273.07 817.40,280.61 817.92,283.17 819.47,291.33 819.99,289.91 820.51,290.35 821.02,289.26 821.54,287.88 823.09,281.59 823.61,281.60 824.12,281.15 824.64,277.43 825.16,280.12 826.71,284.25 827.22,275.85 827.74,276.81 828.26,273.60 830.84,260.76 831.36,262.77 831.88,263.92 832.39,264.46 833.94,263.99 834.46,263.15 834.98,265.35 835.49,264.85 836.01,265.24 837.56,272.49 838.08,274.74 838.59,273.45 839.11,275.47 839.63,275.16 841.18,278.18 841.69,277.19 842.21,274.72 842.73,272.85 843.24,269.09 844.80,263.87 845.31,265.76 845.83,267.13 846.35,263.86 846.86,260.12 848.41,256.93 848.93,255.04 849.45,254.40 849.96,254.80 850.48,255.93 852.03,259.53 852.55,255.71 853.06,252.45 853.58,245.60 854.10,244.19 855.65,245.54 856.16,251.62 856.68,257.17 857.20,255.22 857.72,250.14 860.30,250.17 860.82,251.28 861.33,252.61 862.88,257.54 863.40,261.68 863.92,266.92 864.43,267.97 864.95,269.81 866.50,275.38 867.02,270.74 867.53,272.95 868.05,272.01 868.57,268.44 870.12,268.35 870.64,270.66 871.67,271.10 872.19,273.90 873.74,275.97 874.25,276.18 874.77,272.74 875.29,273.79 875.80,274.22 877.35,275.63 877.87,275.24 878.39,274.70 879.42,269.05 880.97,263.81 881.49,259.68 882.00,258.38 882.52,259.79 883.04,261.25 884.59,269.90 885.11,280.21 885.62,281.32 886.14,281.76 886.66,283.96 888.21,289.84 888.72,291.44 889.24,290.74 890.27,288.10 891.82,292.39 892.34,287.59 892.86,282.60 893.37,305.01 893.89,310.21 895.44,314.64 895.96,312.60 896.48,311.09 896.99,313.12 897.51,311.01 899.06,310.53 899.58,307.68 900.09,305.66 900.61,307.34 901.13,305.07 902.68,305.41 903.19,304.36 903.71,300.00 904.23,296.65 904.74,294.46 906.29,298.91 906.81,298.13 907.33,301.61 907.84,302.80 908.36,303.88 910.43,316.54 910.95,319.41 911.46,319.73 911.98,323.03 913.53,316.03 914.05,311.62 914.56,303.17 915.08,304.77 915.60,303.92 917.15,301.04 917.66,298.57 918.18,301.27 918.70,292.74 920.76,278.00 921.28,278.43 921.80,278.68 922.32,275.48 922.83,276.29 924.38,268.38 924.90,266.25 925.42,268.19 925.93,267.34 926.45,266.95 928.00,269.51 928.52,267.75 929.03,267.09 929.55,268.61 930.07,268.60 931.62,252.95 932.13,251.24 932.65,247.05 933.17,245.14 933.68,240.30 935.24,245.81 935.75,250.74 936.27,257.67 936.79,255.71 937.30,253.75 938.85,257.25 939.37,257.93 939.89,258.28 940.40,263.34 940.92,266.49 942.47,266.00 942.99,264.54 943.50,258.90 944.02,259.33 944.54,259.14 946.09,264.68 946.60,267.69 947.12,265.39 947.64,264.82 949.71,251.06 950.22,247.69 950.74,245.53 951.26,244.22 951.77,246.39 953.32,254.65 953.84,252.82 954.36,250.58 955.39,248.88 956.94,256.88 957.46,251.32 957.97,254.42 958.49,252.30 959.01,256.24 960.56,264.23 961.08,265.39 961.59,265.41 962.11,269.00 962.63,274.51 964.18,282.56 964.69,288.46 965.21,287.05 965.73,286.82 966.24,287.32 967.79,285.84 968.31,285.45 969.34,285.19 969.86,285.43 971.41,289.00 971.93,286.12 972.96,272.74 973.48,267.29 975.03,268.37 975.55,275.65 976.06,281.84 977.10,284.24 978.65,283.16 979.16,281.80 979.68,283.91 980.71,277.90 982.78,256.78 983.30,253.30 983.81,259.69 984.33,272.15 985.88,284.16 986.40,284.04 986.92,275.43 987.43,276.80 987.95,277.15 989.50,273.87 990.02,269.60 990.53,270.90 991.05,268.69 991.57,269.30 993.12,270.21 993.63,270.90 994.15,272.31 994.67,275.32 995.18,273.97 997.25,283.27 997.77,288.94 998.28,292.27 998.80,294.57 1000.35,301.05 1000.87,301.49 1001.39,303.91 1001.90,306.53 1002.42,307.46 1003.97,315.48 1004.49,312.83 1005.00,309.83 1005.52,307.76 1006.04,310.81 1007.59,314.82 1008.10,316.49 1008.62,313.77 1009.14,313.99 1009.65,310.47 1011.72,303.54 1012.24,301.75 1012.76,302.95 1013.27,302.10 1014.82,304.46 1015.34,311.34 1015.86,312.96 1016.37,317.42 1016.89,316.47 1018.44,320.15 1018.96,321.57 1019.47,327.30 1019.99,331.05 1020.51,331.68 1022.06,327.28 1022.57,326.36 1023.09,325.15 1023.61,323.31 1024.12,321.05 1025.68,323.60 1026.19,323.17 1026.71,323.75 1027.23,323.04 1029.29,321.19 1029.81,312.72 1030.33,308.77 1030.84,307.98 1031.36,307.31 1032.91,302.59 1033.43,301.38 1033.94,300.05 1034.46,300.43 1034.98,297.47 1036.53,293.02 1037.04,287.24 1037.56,291.81 1038.08,286.52 1038.60,285.69 1040.15,277.54 1041.18,281.65 1041.70,277.03 1042.21,281.58 1043.76,273.00 1044.28,273.50 1044.80,267.59 1045.31,260.39 1045.83,246.97 1047.90,240.02 1048.41,247.48 1048.93,243.57 1049.45,243.75 1051.00,240.97 1051.52,233.95 1052.03,234.69 1052.55,229.37 1053.07,226.39 1054.62,219.62 1055.13,215.03 1055.65,216.12 1056.17,211.14 1056.68,206.43 1058.23,200.42 1058.75,198.21 1059.27,203.86 1060.30,201.87 1061.85,193.72 1062.37,194.38 1062.88,192.06 1063.40,192.16 1063.92,194.34 1065.47,194.69 1065.99,195.80 1066.50,195.11 1067.02,195.22 1069.09,204.16 1069.60,204.45 1070.12,201.05 1070.64,194.40 1072.70,178.95 1073.22,179.17 1073.74,174.84 1074.25,178.60 1074.77,177.80 1076.32,170.55 1076.84,165.64 1077.36,161.35 1077.87,165.74 1078.39,170.08 1079.94,176.01 1080.46,182.87 1080.97,187.25 1081.49,189.47 1082.01,195.38 1083.56,173.39 1084.07,170.88 1084.59,173.09 1085.11,176.09 1085.62,185.47 1087.17,177.55 1087.69,176.09 1088.21,181.68 1088.72,187.26 1089.24,183.65 1090.79,191.93 1091.31,205.11 1091.83,202.80 1092.34,193.83 1092.86,186.38 1094.41,178.94 1094.93,171.53 1095.44,174.96 1095.96,174.50 1096.48,173.72 1098.54,172.71 1099.06,174.26 1099.58,174.52 1100.09,171.37 1102.16,161.32 1102.68,157.66 1103.20,156.56 1103.71,143.82 1105.26,124.57 1105.78,119.79 1106.30,113.06 1106.81,103.09 1107.33,93.59 1108.88,96.93 1109.40,96.89 1110.43,110.89 1110.95,108.54 1112.50,110.86 1113.01,113.57 1114.05,96.80 1114.56,90.62 1116.12,92.16 1116.63,87.28 1117.67,78.79 1118.18,80.92 1119.73,45.11 1120.25,30.65 1120.77,39.47 1121.28,50.61 1121.80,70.90"/>
<polyline fill="none" stroke="#008000" stroke-width="2.2" stroke-linejoin="round" stroke-linecap="square" points="172.96,427.84 173.47,428.01 173.99,428.14 175.54,428.25 176.06,428.35 176.57,428.45 177.09,428.60 177.61,428.75 179.16,428.82 179.67,428.91 180.19,428.99 180.71,429.09 181.22,429.20 182.77,429.35 183.29,429.50 183.81,429.68 184.32,429.84 184.84,430.02 186.39,430.16 186.91,430.28 187.43,430.37 187.94,430.48 188.46,430.60 190.01,430.70 190.53,430.82 191.04,430.90 191.56,430.98 192.08,431.03 193.63,431.05 194.14,431.10 194.66,431.13 195.18,431.14 195.69,431.18 197.24,431.18 198.28,431.21 199.31,431.21 200.86,431.24 201.38,431.20 201.90,431.10 202.41,430.87 202.93,430.55 204.48,430.13 205.00,429.72 205.51,429.39 206.03,429.02 206.55,428.57 208.10,428.00 208.61,427.40 209.13,426.81 209.65,426.27 210.16,425.73 211.72,425.25 212.23,424.71 212.75,424.13 213.27,423.55 215.33,422.87 215.85,422.20 216.37,421.48 216.88,420.85 218.95,420.06 219.47,419.27 219.98,418.45 220.50,417.65 221.02,416.84 222.57,416.06 223.08,415.28 223.60,414.48 224.12,413.70 224.64,413.00 226.70,412.38 227.22,411.73 227.74,411.16 228.25,410.59 230.32,410.10 230.84,409.66 231.35,409.25 231.87,408.77 233.42,408.14 233.94,407.49 234.45,406.79 234.97,406.06 235.49,405.34 237.04,404.53 237.56,403.72 238.07,402.87 238.59,402.03 239.11,401.13 241.17,400.15 241.69,399.32 242.21,398.63 242.72,397.93 244.27,397.31 244.79,396.69 245.31,396.04 245.82,395.48 246.34,394.97 247.89,394.42 248.41,393.90 248.92,393.40 249.44,392.91 249.96,392.48 251.51,391.97 252.03,391.48 252.54,390.93 253.06,390.33 253.58,389.75 255.13,389.05 255.64,388.42 256.16,387.74 256.68,387.24 257.19,386.80 258.74,386.46 259.78,386.14 260.29,385.81 260.81,385.49 262.36,385.04 262.88,384.57 263.40,384.09 263.91,383.52 265.98,382.82 266.50,382.18 267.01,381.50 267.53,380.82 268.05,380.11 269.60,379.46 270.11,378.84 270.63,378.26 271.15,377.82 271.66,377.41 273.21,377.07 273.73,376.72 274.25,376.40 274.76,376.21 275.28,375.99 276.83,375.75 277.35,375.53 277.87,375.35 278.38,375.24 278.90,374.96 280.45,374.50 280.97,374.02 281.48,373.52 282.00,372.98 282.52,372.35 284.07,371.79 284.58,371.32 285.10,370.96 285.62,370.72 286.13,370.34 287.68,369.80 288.20,369.21 289.24,368.74 289.75,368.24 291.30,367.92 291.82,367.65 292.34,367.38 292.85,367.15 293.37,366.86 295.44,366.46 295.95,366.02 296.47,365.52 296.99,364.92 298.54,364.28 299.05,363.60 299.57,362.90 300.09,362.32 300.60,361.82 302.16,361.43 302.67,361.14 303.19,360.96 303.71,360.79 304.22,360.66 305.77,360.42 306.29,360.16 306.81,359.82 307.32,359.45 307.84,359.08 309.39,358.74 309.91,358.44 310.42,358.10 310.94,357.79 311.46,357.49 313.52,357.23 314.04,357.00 314.56,356.88 315.08,356.76 316.63,356.63 317.14,356.59 317.66,356.70 318.18,356.96 320.24,357.32 320.76,357.69 321.28,358.07 321.79,358.41 322.31,358.68 323.86,358.82 324.38,358.99 324.89,358.99 325.41,359.15 325.93,359.45 327.48,359.82 328.00,360.11 328.51,360.44 329.03,360.69 329.55,360.95 331.10,361.29 331.61,361.67 332.13,362.12 332.65,362.72 333.16,363.33 334.71,364.05 335.23,364.79 335.75,365.61 336.26,366.45 336.78,367.19 338.33,367.79 338.85,368.35 339.36,368.76 339.88,369.10 340.40,369.36 341.95,369.30 342.47,369.06 342.98,368.78 343.50,368.45 344.02,368.10 346.08,367.54 346.60,366.90 347.12,366.21 347.63,365.44 349.70,364.48 350.22,363.47 350.73,362.61 351.25,361.88 352.80,361.36 353.32,360.76 353.84,360.12 354.35,359.51 354.87,359.08 356.42,358.46 356.94,357.79 357.45,357.04 357.97,356.32 358.49,355.64 360.04,355.06 360.55,354.47 361.07,353.91 361.59,353.29 362.10,352.67 363.65,351.44 364.17,350.16 364.69,348.86 365.20,347.55 365.72,346.28 367.27,345.03 367.79,343.63 368.31,342.14 368.82,340.76 369.34,339.40 370.89,337.94 371.41,336.63 371.92,335.31 372.44,334.01 372.96,332.63 374.51,330.90 375.02,329.28 375.54,327.83 376.06,326.39 376.57,324.87 378.64,323.35 379.16,321.89 379.68,320.73 380.19,319.70 381.74,318.91 382.26,318.28 382.78,317.79 383.29,317.48 383.81,317.29 385.36,317.34 385.88,317.27 386.39,317.41 387.43,317.68 388.98,317.81 389.49,317.75 390.01,317.54 390.53,317.44 391.04,317.38 392.60,317.28 393.11,316.92 393.63,316.76 394.15,316.62 394.66,316.61 396.21,316.65 396.73,316.76 397.25,316.88 397.76,316.95 398.28,317.00 399.83,317.08 400.35,317.27 400.86,318.04 401.38,318.78 403.45,319.30 403.96,319.81 404.48,320.33 405.00,320.85 405.52,321.47 407.07,322.06 407.58,322.60 408.62,323.08 409.13,323.56 410.68,323.94 411.20,324.29 411.72,324.61 412.23,325.00 412.75,325.82 414.82,326.62 415.33,327.48 415.85,328.46 416.37,329.59 417.92,330.79 418.44,332.04 418.95,333.40 419.47,334.72 419.99,335.94 421.54,336.82 422.05,337.56 422.57,338.43 423.09,339.34 423.60,339.99 425.15,340.63 425.67,341.22 426.19,341.69 426.70,342.13 427.22,342.60 428.77,343.07 429.29,343.51 429.80,344.02 430.32,344.46 430.84,344.93 432.91,345.16 433.42,345.30 433.94,345.33 434.46,345.21 436.01,344.85 436.52,344.46 437.04,344.12 437.56,343.96 439.62,343.57 440.14,343.09 440.66,342.45 441.17,341.86 441.69,341.50 443.24,341.43 443.76,341.28 444.28,341.06 444.79,340.76 445.31,340.48 446.86,340.09 447.38,339.60 447.89,339.27 448.41,338.87 448.93,338.48 450.48,338.15 450.99,337.73 451.51,337.26 452.03,336.76 452.54,336.15 454.09,335.35 454.61,334.46 455.13,333.45 455.64,332.31 456.16,331.16 457.71,329.90 458.23,328.65 458.75,327.58 459.26,326.60 461.33,325.55 461.85,324.38 462.36,323.40 462.88,322.72 463.40,322.21 464.95,321.91 465.46,321.64 465.98,321.30 466.50,320.93 467.01,320.51 469.08,320.02 469.60,319.68 470.12,319.44 470.63,319.46 472.18,319.76 472.70,320.20 473.22,320.80 473.73,321.58 474.25,322.24 475.80,322.75 476.32,323.05 476.83,323.64 477.35,324.29 477.87,325.07 479.42,325.83 479.93,326.56 480.45,326.96 480.97,327.37 481.48,327.76 483.55,328.22 484.07,328.73 484.59,329.27 485.10,329.88 486.65,330.41 487.17,330.93 487.69,331.41 488.20,331.89 488.72,332.51 490.27,333.47 490.79,334.46 491.30,335.47 491.82,336.56 492.34,337.69 494.40,339.01 494.92,340.38 495.44,341.62 495.96,342.92 497.51,344.20 498.02,345.54 499.06,346.84 499.57,348.11 501.64,349.52 502.16,350.73 502.67,351.83 503.19,352.67 504.74,353.48 505.26,354.22 505.77,354.97 506.29,355.68 506.81,356.36 508.36,356.90 508.88,357.38 509.39,357.84 509.91,358.19 510.43,358.30 511.98,358.16 512.49,357.85 513.01,357.49 513.53,357.23 514.04,357.12 515.59,357.14 516.11,357.08 516.63,357.01 517.14,356.93 517.66,356.92 519.21,356.81 519.73,356.78 520.24,356.86 520.76,356.95 521.28,357.11 522.83,357.32 523.35,357.62 523.86,358.07 524.38,358.52 524.90,359.00 526.45,359.33 526.96,359.48 527.48,359.42 528.51,358.87 530.06,358.28 530.58,357.66 531.10,357.16 531.61,356.70 532.13,356.12 534.20,355.36 534.72,354.60 535.23,353.92 535.75,353.21 537.30,352.57 537.82,351.95 538.33,351.34 538.85,350.68 539.37,350.11 540.92,349.71 541.43,349.45 541.95,349.21 542.47,349.08 542.98,349.01 544.53,348.84 545.05,348.69 545.57,348.63 546.08,348.54 546.60,348.39 548.15,348.13 548.67,347.95 549.19,347.97 549.70,348.10 550.22,348.32 551.77,348.65 552.29,349.00 552.80,349.31 553.32,349.67 553.84,350.03 555.39,350.25 555.90,350.45 556.42,350.70 556.94,350.92 559.00,350.95 559.52,351.00 560.04,351.05 560.56,351.09 561.07,351.04 562.62,351.01 563.14,351.05 563.66,351.02 564.17,351.05 564.69,351.13 566.24,351.37 566.76,351.68 567.27,352.02 567.79,352.25 568.31,352.40 569.86,352.51 570.37,352.66 570.89,353.00 571.41,353.43 571.92,353.91 573.48,354.44 573.99,354.84 574.51,355.16 575.54,355.49 577.09,355.73 577.61,355.88 578.13,355.88 578.64,355.91 579.16,355.84 580.71,355.81 581.23,355.78 581.74,355.77 582.26,355.80 582.78,355.86 584.33,355.94 584.84,356.06 585.36,356.27 585.88,356.42 586.40,356.60 588.46,356.77 588.98,356.84 589.50,356.83 590.01,356.72 592.08,356.59 592.60,356.49 593.11,356.37 593.63,356.38 595.70,356.29 596.21,356.22 596.73,356.14 597.25,356.12 598.80,355.99 599.32,355.84 599.83,355.61 600.35,355.44 600.87,355.13 602.93,354.73 603.45,354.40 603.97,354.07 604.48,353.84 606.03,353.49 606.55,353.19 607.07,352.85 607.58,352.64 608.10,352.38 609.65,352.11 610.17,351.78 610.68,351.41 611.20,351.06 611.72,350.72 613.27,350.48 613.79,350.23 614.30,350.04 614.82,349.73 615.34,349.48 616.89,349.30 617.40,349.10 617.92,348.87 618.95,348.56 621.02,348.30 621.54,348.04 622.05,347.83 622.57,347.63 624.12,347.42 624.64,347.20 625.16,346.93 625.67,346.72 626.19,346.52 627.74,346.38 628.26,346.26 628.77,346.21 629.29,346.20 629.81,346.23 631.36,346.34 631.87,346.43 632.39,346.54 632.91,346.62 633.42,346.75 634.97,346.92 635.49,347.15 636.01,347.42 636.52,347.86 637.04,348.28 638.59,348.66 639.11,349.02 639.63,349.37 640.14,349.72 640.66,350.03 642.21,350.60 642.73,351.12 643.24,351.69 643.76,352.19 645.83,352.69 646.34,353.18 646.86,353.72 647.38,354.25 647.89,354.83 649.96,355.48 650.48,356.08 651.00,356.63 651.51,357.06 653.06,357.50 653.58,357.92 654.10,358.39 654.61,358.90 655.13,359.35 656.68,359.84 657.20,360.24 657.71,360.64 658.23,360.88 658.75,361.07 660.30,361.14 660.81,361.18 661.33,361.28 661.85,361.45 662.36,361.61 663.92,361.74 664.43,361.85 664.95,361.90 665.47,361.88 665.98,361.85 667.53,361.72 668.05,361.63 668.57,361.46 669.08,361.33 669.60,361.23 671.67,361.13 672.18,360.94 672.70,360.66 673.22,360.32 674.77,359.89 675.28,359.38 675.80,358.96 676.32,358.56 676.84,358.13 678.39,357.72 679.42,357.26 679.94,356.89 680.45,356.31 682.52,355.85 683.04,355.44 683.55,355.10 684.07,354.82 685.62,354.51 686.14,354.17 686.65,353.90 687.17,353.65 687.69,353.34 689.24,353.06 690.27,352.85 690.79,352.60 691.31,352.38 692.86,352.01 693.37,351.59 693.89,351.16 694.41,350.75 694.92,350.29 696.47,349.89 696.99,349.53 697.51,349.20 698.02,348.93 698.54,348.74 700.09,348.53 700.61,348.27 701.12,347.94 701.64,347.68 702.16,347.39 703.71,347.06 704.23,346.73 704.74,346.43 705.26,346.17 705.78,345.87 707.33,345.52 707.84,345.18 708.36,344.76 709.39,344.30 710.94,343.88 711.46,343.65 711.98,343.44 712.49,343.19 713.01,343.04 714.56,342.85 715.08,342.62 715.60,342.46 716.11,342.26 716.63,342.09 718.18,341.93 718.70,341.71 719.21,341.44 719.73,341.12 720.25,340.69 722.31,340.24 722.83,339.78 723.35,339.38 723.86,338.95 725.41,338.37 725.93,337.66 726.45,336.87 726.96,336.02 727.48,335.06 729.03,334.22 729.55,333.41 730.07,332.79 730.58,332.18 731.10,331.39 732.65,330.51 733.17,329.67 733.68,328.84 734.20,328.05 734.72,327.33 736.27,326.78 736.78,326.22 737.30,325.70 737.82,325.17 739.88,324.69 740.40,324.15 740.92,323.71 741.44,323.34 741.95,322.90 743.50,322.38 744.02,321.79 744.54,321.29 745.05,320.80 745.57,320.26 747.12,319.73 747.64,319.20 748.15,318.71 748.67,318.19 749.19,317.61 750.74,317.03 751.25,316.40 751.77,315.82 752.29,315.22 752.80,314.68 754.36,314.22 754.87,313.74 755.39,313.28 755.91,312.79 756.42,312.33 757.97,311.76 758.49,311.21 759.01,310.67 759.52,310.05 760.04,309.37 761.59,308.71 762.11,308.12 762.62,307.63 763.66,307.26 765.21,307.03 765.72,306.83 766.24,306.52 766.76,306.08 767.28,305.67 769.34,305.31 769.86,305.12 770.38,304.98 770.89,304.85 772.44,304.63 772.96,304.33 773.48,303.87 773.99,303.20 774.51,302.59 776.06,302.13 776.58,301.77 777.09,301.25 777.61,300.63 778.13,299.99 780.20,299.27 780.71,298.56 781.23,297.98 781.75,297.47 783.81,297.01 784.33,296.59 784.85,296.15 785.36,295.65 786.91,294.93 787.43,294.10 787.95,293.08 788.46,291.98 788.98,290.99 791.05,290.08 791.56,289.18 792.08,288.40 792.60,287.58 794.15,286.87 794.67,286.25 795.18,285.57 795.70,284.96 796.22,284.35 797.77,283.52 798.28,282.69 798.80,281.82 799.83,281.11 801.38,280.45 801.90,279.78 802.42,279.28 802.93,278.81 803.45,278.42 805.00,277.92 805.52,277.57 806.04,277.21 806.55,276.97 807.07,276.68 809.14,276.57 809.65,276.51 810.17,276.56 810.69,276.49 812.24,276.39 812.75,276.35 813.27,276.40 813.79,276.45 814.30,276.46 815.85,276.17 816.37,275.74 816.89,275.37 817.40,275.27 817.92,275.18 819.47,275.31 819.99,275.43 820.51,275.50 821.02,275.50 821.54,275.41 823.09,275.14 823.61,274.93 824.12,274.81 824.64,274.85 825.16,275.01 826.71,275.43 827.22,275.81 827.74,276.18 828.26,276.45 830.84,276.46 831.36,276.42 831.88,276.38 832.39,276.23 833.94,275.98 834.46,275.79 834.98,275.64 835.49,275.51 836.01,275.68 837.56,276.03 838.08,276.49 838.59,276.82 839.11,277.17 839.63,277.52 841.18,277.81 841.69,278.04 842.21,278.10 842.73,278.10 843.24,277.89 844.80,277.63 845.31,277.39 845.83,277.17 846.35,276.70 846.86,276.09 848.41,275.35 848.93,274.69 849.45,274.08 849.96,273.44 850.48,272.79 852.03,272.23 852.55,271.63 853.06,271.12 853.58,270.54 854.10,269.96 855.65,269.26 856.16,268.63 856.68,267.95 857.20,267.25 857.72,266.45 860.30,265.67 860.82,264.93 861.33,264.35 862.88,263.87 863.40,263.48 863.92,263.27 864.43,263.03 864.95,262.74 866.50,262.73 867.02,262.61 867.53,262.60 868.05,262.82 868.57,262.94 870.12,263.02 870.64,263.15 871.67,263.29 872.19,263.51 873.74,263.72 874.25,263.94 874.77,264.09 875.29,264.12 875.80,264.11 877.35,264.15 877.87,264.15 878.39,264.14 879.42,263.96 880.97,263.69 881.49,263.39 882.00,263.10 882.52,262.91 883.04,262.86 884.59,262.94 885.11,263.21 885.62,263.55 886.14,263.99 886.66,264.53 888.21,265.22 888.72,265.96 889.24,266.68 890.27,267.33 891.82,267.98 892.34,268.62 892.86,269.22 893.37,270.41 893.89,271.73 895.44,273.12 895.96,274.33 896.48,275.41 896.99,276.57 897.51,277.79 899.06,279.00 899.58,280.12 900.09,281.18 900.61,282.18 901.13,283.05 902.68,283.82 903.19,284.55 903.71,285.15 904.23,285.58 904.74,286.05 906.29,286.57 906.81,287.09 907.33,287.76 907.84,288.44 908.36,289.11 910.43,290.02 910.95,290.93 911.46,291.80 911.98,292.74 913.53,293.61 914.05,294.36 914.56,294.94 915.08,295.52 915.60,296.10 917.15,296.62 917.66,297.22 918.18,297.96 918.70,298.63 920.76,299.02 921.28,299.39 921.80,299.74 922.32,299.85 922.83,299.77 924.38,299.51 924.90,299.20 925.42,298.89 925.93,298.44 926.45,297.95 928.00,297.52 928.52,297.12 929.03,296.61 929.55,296.23 930.07,295.95 931.62,294.91 932.13,293.73 932.65,292.38 933.17,291.03 933.68,289.61 935.24,288.27 935.75,287.06 936.27,286.01 936.79,284.97 937.30,283.93 938.85,282.93 939.37,281.98 939.89,281.04 940.40,280.22 940.92,279.55 942.47,278.94 942.99,278.34 943.50,277.54 944.02,276.76 944.54,275.91 946.09,275.15 946.60,274.43 947.12,273.40 947.64,272.31 949.71,270.94 950.22,269.43 950.74,268.02 951.26,266.67 951.77,265.54 953.32,264.54 953.84,263.51 954.36,262.50 955.39,261.51 956.94,260.62 957.46,259.79 957.97,259.32 958.49,258.80 959.01,258.35 960.56,258.13 961.08,257.91 961.59,257.85 962.11,257.90 962.63,258.03 964.18,258.33 964.69,258.76 965.21,259.12 965.73,259.50 966.24,259.90 967.79,260.25 968.31,260.58 969.34,261.23 969.86,261.91 971.41,262.75 971.93,263.57 972.96,264.22 973.48,264.65 975.03,265.00 975.55,265.36 976.06,265.88 977.10,266.49 978.65,267.01 979.16,267.49 979.68,268.00 980.71,268.29 982.78,268.10 983.30,267.84 983.81,267.75 984.33,268.01 985.88,268.51 986.40,269.01 986.92,269.22 987.43,269.40 987.95,269.64 989.50,269.82 990.02,270.19 990.53,270.66 991.05,271.12 991.57,271.62 993.12,272.10 993.63,272.42 994.15,272.81 994.67,273.31 995.18,273.81 997.25,274.34 997.77,275.09 998.28,275.85 998.80,276.69 1000.35,277.59 1000.87,278.33 1001.39,279.10 1001.90,279.93 1002.42,280.69 1003.97,281.51 1004.49,282.12 1005.00,282.55 1005.52,282.96 1006.04,283.44 1007.59,283.99 1008.10,284.60 1008.62,285.17 1009.14,285.75 1009.65,286.25 1011.72,286.54 1012.24,286.85 1012.76,287.45 1013.27,288.15 1014.82,288.87 1015.34,289.59 1015.86,290.21 1016.37,290.87 1016.89,291.54 1018.44,292.31 1018.96,293.06 1019.47,294.05 1019.99,295.53 1020.51,297.10 1022.06,298.45 1022.57,299.54 1023.09,300.36 1023.61,301.14 1024.12,302.05 1025.68,302.99 1026.19,303.91 1026.71,304.91 1027.23,305.98 1029.29,306.98 1029.81,307.86 1030.33,308.65 1030.84,309.41 1031.36,310.14 1032.91,310.74 1033.43,311.26 1033.94,311.78 1034.46,312.13 1034.98,312.30 1036.53,312.31 1037.04,312.17 1037.56,311.98 1038.08,311.68 1038.60,311.32 1040.15,310.74 1041.18,310.22 1041.70,309.45 1042.21,308.83 1043.76,308.09 1044.28,307.41 1044.80,306.54 1045.31,305.45 1045.83,304.06 1047.90,302.59 1048.41,301.26 1048.93,299.92 1049.45,298.72 1051.00,297.51 1051.52,296.13 1052.03,294.78 1052.55,293.28 1053.07,291.58 1054.62,289.71 1055.13,287.66 1055.65,285.66 1056.17,283.48 1056.68,281.17 1058.23,278.64 1058.75,275.98 1059.27,273.42 1060.30,270.92 1061.85,268.26 1062.37,265.65 1062.88,263.02 1063.40,260.44 1063.92,257.86 1065.47,255.29 1065.99,252.73 1066.50,250.17 1067.02,247.65 1069.09,245.48 1069.60,243.39 1070.12,241.26 1070.64,239.00 1072.70,236.53 1073.22,234.08 1073.74,231.58 1074.25,229.14 1074.77,226.75 1076.32,224.30 1076.84,221.87 1077.36,219.26 1077.87,216.84 1078.39,214.53 1079.94,212.50 1080.46,210.52 1080.97,208.73 1081.49,206.88 1082.01,205.33 1083.56,203.33 1084.07,201.40 1084.59,199.65 1085.11,198.23 1085.62,197.14 1087.17,195.74 1087.69,194.39 1088.21,193.15 1088.72,192.08 1089.24,191.07 1090.79,190.22 1091.31,189.73 1091.83,189.26 1092.34,188.74 1092.86,188.17 1094.41,187.43 1094.93,186.63 1095.44,186.00 1095.96,185.49 1096.48,185.00 1098.54,184.37 1099.06,183.82 1099.58,183.44 1100.09,182.98 1102.16,182.36 1102.68,181.67 1103.20,180.92 1103.71,179.90 1105.26,178.47 1105.78,176.97 1106.30,175.32 1106.81,173.30 1107.33,171.09 1108.88,169.00 1109.40,167.05 1110.43,165.69 1110.95,164.28 1112.50,163.00 1113.01,161.70 1114.05,160.08 1114.56,158.48 1116.12,157.01 1116.63,155.53 1117.67,153.79 1118.18,152.01 1119.73,149.39 1120.25,146.35 1120.77,143.39 1121.28,140.61 1121.80,138.12"/>
<polyline fill="none" stroke="#ff0000" stroke-width="2.2" stroke-linejoin="round" stroke-linecap="square" points="153.83,426.32 154.35,426.35 154.87,426.30 155.38,426.26 155.90,426.14 157.97,426.09 158.48,426.09 159.00,426.03 159.52,425.95 161.07,425.82 161.59,425.76 162.10,425.68 162.62,425.68 163.14,425.69 164.69,425.80 165.20,426.02 165.72,426.23 166.24,426.53 166.75,426.79 168.30,427.05 169.34,427.31 169.85,427.70 170.37,428.06 171.92,428.47 172.44,428.93 172.96,429.35 173.47,429.66 173.99,429.97 175.54,430.23 176.06,430.56 176.57,430.81 177.09,431.10 177.61,431.48 179.16,431.69 179.67,432.00 180.19,432.23 180.71,432.49 181.22,432.72 182.77,433.01 183.29,433.19 183.81,433.34 184.32,433.45 184.84,433.52 186.39,433.53 186.91,433.50 187.43,433.42 187.94,433.25 188.46,433.13 190.01,432.92 190.53,432.70 191.04,432.45 191.56,432.30 192.08,432.09 193.63,431.86 194.14,431.65 194.66,431.45 195.18,431.18 195.69,430.88 197.24,430.67 198.28,430.43 199.31,430.19 200.86,429.99 201.38,429.68 201.90,429.18 202.41,428.55 202.93,427.77 204.48,426.82 205.00,425.92 205.51,425.25 206.03,424.53 206.55,423.71 208.10,422.74 208.61,421.66 209.13,420.70 209.65,419.83 210.16,419.01 211.72,418.20 212.23,417.33 212.75,416.40 213.27,415.44 215.33,414.29 215.85,413.21 216.37,412.08 216.88,411.03 218.95,409.70 219.47,408.36 219.98,406.92 220.50,405.61 221.02,404.49 222.57,403.56 223.08,402.78 223.60,402.14 224.12,401.48 224.64,400.75 226.70,400.22 227.22,399.74 227.74,399.58 228.25,399.52 230.32,399.51 230.84,399.49 231.35,399.50 231.87,399.34 233.42,398.95 233.94,398.58 234.45,398.14 234.97,397.83 235.49,397.47 237.04,396.98 237.56,396.40 238.07,396.04 238.59,395.70 239.11,395.33 241.17,394.69 241.69,394.16 242.21,393.70 242.72,393.08 244.27,392.49 244.79,391.90 245.31,391.33 245.82,390.74 246.34,390.19 247.89,389.26 248.41,388.28 248.92,387.30 249.44,386.34 249.96,385.46 251.51,384.61 252.03,384.00 252.54,383.29 253.06,382.52 253.58,381.66 255.13,380.64 255.64,379.86 256.16,379.08 256.68,378.43 257.19,377.90 258.74,377.60 259.78,377.59 260.29,377.45 260.81,377.29 262.36,377.00 262.88,376.65 263.40,376.28 263.91,375.70 265.98,374.90 266.50,374.16 267.01,373.73 267.53,373.36 268.05,372.93 269.60,372.58 270.11,372.22 270.63,371.92 271.15,371.63 271.66,371.52 273.21,371.63 273.73,371.78 274.25,372.17 274.76,372.55 275.28,372.91 276.83,373.07 277.35,373.16 277.87,373.11 278.38,372.88 278.90,372.47 280.45,371.71 280.97,371.04 281.48,370.38 282.00,369.67 282.52,369.00 284.07,368.67 284.58,368.47 285.10,368.18 285.62,368.08 286.13,367.75 287.68,367.02 288.20,366.21 289.24,365.56 289.75,364.85 291.30,364.33 291.82,363.68 292.34,362.98 292.85,362.13 293.37,361.16 295.44,360.01 295.95,358.98 296.47,357.87 296.99,356.74 298.54,355.67 299.05,354.73 299.57,354.09 300.09,353.60 300.60,353.25 302.16,353.20 302.67,353.28 303.19,353.24 303.71,353.11 304.22,353.14 305.77,352.75 306.29,352.56 306.81,352.62 307.32,352.69 307.84,352.61 309.39,352.64 309.91,352.56 310.42,352.53 310.94,352.60 311.46,352.85 313.52,353.29 314.04,354.00 314.56,354.78 315.08,355.64 316.63,356.52 317.14,357.51 317.66,358.67 318.18,359.83 320.24,361.04 320.76,362.12 321.28,362.94 321.79,363.54 322.31,364.12 323.86,364.53 324.38,364.84 324.89,365.24 325.41,365.74 325.93,366.29 327.48,366.95 328.00,367.61 328.51,368.25 329.03,368.82 329.55,369.38 331.10,369.98 331.61,370.50 332.13,370.95 332.65,371.45 333.16,371.88 334.71,372.46 335.23,373.07 335.75,373.71 336.26,374.24 336.78,374.55 338.33,374.54 338.85,374.58 339.36,374.59 339.88,374.66 340.40,374.60 341.95,374.07 342.47,373.28 342.98,372.32 343.50,371.16 344.02,369.92 346.08,368.13 346.60,366.18 347.12,364.17 347.63,362.06 349.70,359.59 350.22,356.96 350.73,354.73 351.25,352.81 352.80,351.26 353.32,349.63 353.84,347.78 354.35,345.96 354.87,344.45 356.42,342.67 356.94,341.04 357.45,339.54 357.97,338.07 358.49,336.70 360.04,335.45 360.55,334.35 361.07,333.75 361.59,333.31 362.10,333.03 363.65,331.72 364.17,330.40 364.69,329.59 365.20,328.92 365.72,328.38 367.27,328.01 367.79,327.67 368.31,327.33 368.82,326.79 369.34,325.98 370.89,324.62 371.41,323.62 371.92,322.84 372.44,322.06 372.96,320.81 374.51,319.12 375.02,317.52 375.54,316.12 376.06,314.71 376.57,313.03 378.64,311.25 379.16,309.44 379.68,307.71 380.19,306.09 381.74,304.79 382.26,304.84 382.78,305.19 383.29,305.37 383.81,305.66 385.36,306.30 385.88,306.53 386.39,307.14 387.43,308.03 388.98,308.83 389.49,309.51 390.01,310.47 390.53,311.26 391.04,311.92 392.60,312.51 393.11,313.03 393.63,314.39 394.15,315.73 394.66,317.10 396.21,318.60 396.73,320.48 397.25,322.50 397.76,324.45 398.28,326.29 399.83,328.08 400.35,329.75 400.86,331.24 401.38,332.37 403.45,333.23 403.96,333.95 404.48,334.36 405.00,335.16 405.52,335.79 407.07,336.08 407.58,336.37 408.62,336.66 409.13,336.65 410.68,336.61 411.20,336.66 411.72,336.71 412.23,336.97 412.75,337.24 414.82,337.52 415.33,337.86 415.85,338.32 416.37,338.69 417.92,339.07 418.44,339.64 418.95,340.51 419.47,341.37 419.99,342.13 421.54,342.41 422.05,342.75 422.57,343.62 423.09,344.73 423.60,345.63 425.15,346.09 425.67,346.65 426.19,347.30 426.70,347.90 427.22,348.55 428.77,349.49 429.29,350.41 429.80,351.37 430.32,352.22 430.84,352.89 432.91,353.08 433.42,353.08 433.94,352.79 434.46,352.10 436.01,351.01 436.52,349.85 437.04,348.60 437.56,347.42 439.62,345.78 440.14,344.05 440.66,342.50 441.17,340.97 441.69,339.37 443.24,338.13 443.76,336.93 444.28,336.02 444.79,334.87 445.31,333.66 446.86,332.29 447.38,330.65 447.89,329.04 448.41,327.33 448.93,325.60 450.48,324.07 450.99,322.57 451.51,321.44 452.03,320.44 452.54,319.52 454.09,318.61 454.61,317.91 455.13,317.06 455.64,316.03 456.16,314.90 457.71,314.02 458.23,313.26 458.75,312.66 459.26,312.24 461.33,311.72 461.85,310.63 462.36,309.88 462.88,309.43 463.40,309.56 464.95,310.16 465.46,310.98 465.98,311.94 466.50,312.81 467.01,313.69 469.08,314.44 469.60,315.29 470.12,316.31 470.63,317.48 472.18,319.08 472.70,320.88 473.22,323.00 473.73,325.25 474.25,327.42 475.80,329.46 476.32,331.19 476.83,333.25 477.35,335.32 477.87,337.48 479.42,339.41 479.93,341.40 480.45,343.29 480.97,344.85 481.48,346.09 483.55,346.88 484.07,347.30 484.59,347.57 485.10,347.81 486.65,348.02 487.17,348.17 487.69,348.39 488.20,348.49 488.72,348.70 490.27,349.45 490.79,349.83 491.30,350.06 491.82,350.12 492.34,350.13 494.40,350.60 494.92,351.30 495.44,352.05 495.96,352.60 497.51,353.07 498.02,353.60 499.06,354.26 499.57,354.83 501.64,355.75 502.16,356.62 502.67,357.56 503.19,358.46 504.74,359.65 505.26,360.87 505.77,362.12 506.29,363.35 506.81,364.55 508.36,365.41 508.88,366.26 509.39,366.97 509.91,366.92 510.43,366.77 511.98,366.25 512.49,365.59 513.01,364.86 513.53,363.87 514.04,362.94 515.59,362.24 516.11,361.56 516.63,360.94 517.14,360.25 517.66,359.58 519.21,358.80 519.73,357.81 520.24,357.10 520.76,356.33 521.28,355.76 522.83,354.99 523.35,354.37 523.86,354.01 524.38,353.69 524.90,353.46 526.45,353.25 526.96,352.71 527.48,351.86 528.51,350.82 530.06,349.78 530.58,349.08 531.10,348.73 531.61,348.55 532.13,348.38 534.20,347.78 534.72,346.96 535.23,346.27 535.75,345.48 537.30,344.88 537.82,344.31 538.33,343.88 538.85,343.56 539.37,343.12 540.92,343.10 541.43,343.14 541.95,343.43 542.47,343.79 542.98,344.01 544.53,343.99 545.05,343.93 545.57,344.01 546.08,344.37 546.60,344.92 548.15,345.45 548.67,346.13 549.19,346.86 549.70,347.48 550.22,348.10 551.77,348.91 552.29,350.22 552.80,351.67 553.32,353.06 553.84,354.58 555.39,355.62 555.90,356.58 556.42,357.51 556.94,358.28 559.00,358.79 559.52,358.90 560.04,358.96 560.56,358.74 561.07,358.30 562.62,358.01 563.14,358.10 563.66,358.12 564.17,358.09 564.69,357.88 566.24,357.81 566.76,357.92 567.27,357.91 567.79,357.63 568.31,357.32 569.86,356.92 570.37,356.41 570.89,355.79 571.41,355.19 571.92,354.75 573.48,354.30 573.99,354.06 574.51,353.73 575.54,353.48 577.09,353.18 577.61,352.97 578.13,352.86 578.64,352.85 579.16,352.94 580.71,353.33 581.23,353.54 581.74,353.44 582.26,353.48 582.78,353.63 584.33,353.99 584.84,354.30 585.36,354.62 585.88,354.94 586.40,355.57 588.46,356.21 588.98,356.76 589.50,357.26 590.01,357.65 592.08,357.99 592.60,358.24 593.11,358.44 593.63,358.69 595.70,358.86 596.21,358.96 596.73,359.10 597.25,359.26 598.80,359.13 599.32,358.83 599.83,358.28 600.35,357.54 600.87,356.71 602.93,356.01 603.45,355.31 603.97,354.51 604.48,353.68 606.03,352.68 606.55,351.76 607.07,350.75 607.58,349.72 608.10,348.56 609.65,347.47 610.17,346.30 610.68,345.17 611.20,344.13 611.72,343.20 613.27,342.52 613.79,341.77 614.30,341.22 614.82,340.51 615.34,339.85 616.89,339.35 617.40,339.06 617.92,338.91 618.95,338.85 621.02,339.06 621.54,339.37 622.05,339.64 622.57,339.95 624.12,340.33 624.64,340.72 625.16,341.19 625.67,341.68 626.19,342.29 627.74,343.04 628.26,343.97 628.77,344.94 629.29,346.09 629.81,347.30 631.36,348.54 631.87,349.67 632.39,350.56 632.91,351.47 633.42,352.28 634.97,353.34 635.49,354.45 636.01,355.49 636.52,356.66 637.04,357.65 638.59,358.47 639.11,358.97 639.63,359.36 640.14,359.81 640.66,360.11 642.21,360.87 642.73,361.52 643.24,362.19 643.76,362.70 645.83,363.09 646.34,363.32 646.86,363.48 647.38,363.57 647.89,363.57 649.96,363.65 650.48,363.62 651.00,363.60 651.51,363.56 653.06,363.53 653.58,363.56 654.10,363.45 654.61,363.36 655.13,363.21 656.68,363.01 657.20,362.83 657.71,362.82 658.23,362.79 658.75,362.77 660.30,362.48 660.81,362.24 661.33,361.70 661.85,361.38 662.36,361.02 663.92,360.78 664.43,360.61 664.95,360.48 665.47,360.28 665.98,360.13 667.53,359.86 668.05,359.61 668.57,359.30 669.08,359.07 669.60,358.89 671.67,358.73 672.18,358.32 672.70,357.87 673.22,357.28 674.77,356.57 675.28,355.76 675.80,355.09 676.32,354.29 676.84,353.47 678.39,352.67 679.42,352.05 679.94,351.53 680.45,350.92 682.52,350.32 683.04,349.87 683.55,349.42 684.07,349.03 685.62,348.54 686.14,348.06 686.65,347.68 687.17,347.44 687.69,347.07 689.24,346.81 690.27,346.63 690.79,346.31 691.31,346.03 692.86,345.70 693.37,345.31 693.89,345.03 694.41,344.92 694.92,344.82 696.47,344.69 696.99,344.77 697.51,344.93 698.02,345.18 698.54,345.43 700.09,345.53 700.61,345.61 701.12,345.55 701.64,345.49 702.16,345.36 703.71,345.09 704.23,344.92 704.74,344.80 705.26,344.65 705.78,344.30 707.33,343.97 707.84,343.55 708.36,342.89 709.39,342.30 710.94,341.73 711.46,341.59 711.98,341.58 712.49,341.35 713.01,341.16 714.56,340.87 715.08,340.54 715.60,340.16 716.11,339.59 716.63,339.00 718.18,338.43 718.70,337.90 719.21,337.28 719.73,336.68 720.25,335.90 722.31,335.11 722.83,334.47 723.35,333.84 723.86,333.10 725.41,332.08 725.93,331.02 726.45,329.78 726.96,328.50 727.48,327.23 729.03,326.14 729.55,325.08 730.07,323.98 730.58,322.77 731.10,321.43 732.65,319.86 733.17,318.47 733.68,317.14 734.20,315.95 734.72,315.08 736.27,314.55 736.78,314.01 737.30,313.50 737.82,313.06 739.88,312.70 740.40,312.41 740.92,312.30 741.44,312.20 741.95,311.97 743.50,311.66 744.02,311.51 744.54,311.56 745.05,311.82 745.57,312.02 747.12,312.23 747.64,312.27 748.15,312.34 748.67,312.40 749.19,312.44 750.74,312.62 751.25,312.93 751.77,313.18 752.29,313.30 752.80,313.41 754.36,313.37 754.87,312.93 755.39,312.56 755.91,312.09 756.42,311.60 757.97,310.83 758.49,310.01 759.01,309.03 759.52,307.90 760.04,306.77 761.59,305.75 762.11,304.73 762.62,303.69 763.66,302.70 765.21,302.03 765.72,301.43 766.24,300.77 766.76,299.82 767.28,298.94 769.34,298.18 769.86,297.62 770.38,297.04 770.89,296.52 772.44,295.96 772.96,295.25 773.48,294.38 773.99,293.47 774.51,292.63 776.06,292.16 776.58,291.94 777.09,291.68 777.61,291.24 778.13,290.95 780.20,290.64 780.71,290.35 781.23,290.20 781.75,290.22 783.81,290.32 784.33,290.49 784.85,290.28 785.36,289.87 786.91,289.08 787.43,288.38 787.95,287.21 788.46,285.78 788.98,284.36 791.05,283.12 791.56,281.84 792.08,280.83 792.60,279.92 794.15,279.37 794.67,279.03 795.18,278.51 795.70,277.75 796.22,276.75 797.77,275.37 798.28,274.13 798.80,272.70 799.83,271.58 801.38,270.54 801.90,269.37 802.42,268.34 802.93,267.30 803.45,266.36 805.00,265.57 805.52,265.28 806.04,265.33 806.55,265.55 807.07,266.15 809.14,267.37 809.65,268.66 810.17,270.00 810.69,271.14 812.24,271.94 812.75,272.79 813.27,273.43 813.79,273.88 814.30,274.40 815.85,274.59 816.37,274.73 816.89,275.38 817.40,276.42 817.92,277.67 819.47,279.05 819.99,280.32 820.51,281.63 821.02,282.65 821.54,283.53 823.09,283.93 823.61,284.29 824.12,284.34 824.64,284.37 825.16,284.47 826.71,284.70 827.22,284.24 827.74,283.70 828.26,282.89 830.84,281.79 831.36,280.90 831.88,279.98 832.39,279.03 833.94,278.09 834.46,277.18 834.98,276.68 835.49,276.29 836.01,275.98 837.56,275.65 838.08,275.31 838.59,274.60 839.11,274.02 839.63,273.41 841.18,272.97 841.69,272.54 842.21,272.27 842.73,271.92 843.24,271.44 844.80,270.89 845.31,270.32 845.83,269.63 846.35,269.15 846.86,268.49 848.41,267.82 848.93,267.59 849.45,267.26 849.96,266.89 850.48,266.55 852.03,266.37 852.55,266.07 853.06,265.56 853.58,264.79 854.10,263.95 855.65,262.87 856.16,261.94 856.68,261.29 857.20,260.48 857.72,259.48 860.30,258.36 860.82,257.32 861.33,256.44 862.88,255.83 863.40,255.53 863.92,255.65 864.43,255.74 864.95,255.85 866.50,256.31 867.02,256.73 867.53,257.37 868.05,258.05 868.57,258.62 870.12,259.16 870.64,259.75 871.67,260.21 872.19,260.94 873.74,261.88 874.25,263.10 874.77,264.24 875.29,265.37 875.80,266.28 877.35,267.02 877.87,267.82 878.39,268.80 879.42,269.55 880.97,270.05 881.49,270.34 882.00,270.37 882.52,270.30 883.04,270.07 884.59,270.15 885.11,270.56 885.62,270.80 886.14,271.24 886.66,271.68 888.21,272.39 888.72,273.31 889.24,274.21 890.27,274.91 891.82,275.76 892.34,276.31 892.86,276.57 893.37,277.73 893.89,279.22 895.44,280.86 895.96,282.39 896.48,283.81 896.99,285.33 897.51,286.78 899.06,288.44 899.58,290.19 900.09,292.03 900.61,293.99 901.13,295.80 902.68,297.57 903.19,298.95 903.71,299.74 904.23,300.35 904.74,300.86 906.29,301.46 906.81,301.79 907.33,302.20 907.84,302.68 908.36,303.31 910.43,304.28 910.95,305.55 911.46,307.03 911.98,307.75 913.53,307.99 914.05,307.87 914.56,307.49 915.08,307.24 915.60,306.87 917.15,306.47 917.66,305.99 918.18,305.74 918.70,305.22 920.76,304.05 921.28,302.98 921.80,301.91 922.32,300.76 922.83,299.81 924.38,298.68 924.90,297.55 925.42,296.32 925.93,295.09 926.45,293.70 928.00,292.37 928.52,290.92 929.03,288.95 929.55,286.91 930.07,284.87 931.62,282.07 932.13,279.47 932.65,276.89 933.17,274.57 933.68,271.99 935.24,269.67 935.75,267.65 936.27,266.02 936.79,264.20 937.30,262.64 938.85,261.81 939.37,260.99 939.89,260.17 940.40,259.69 940.92,259.29 942.47,259.20 942.99,259.13 943.50,258.76 944.02,258.44 944.54,258.13 946.09,257.93 946.60,257.93 947.12,257.86 947.64,257.71 949.71,257.01 950.22,256.80 950.74,256.57 951.26,256.46 951.77,256.51 953.32,257.08 953.84,257.36 954.36,257.35 955.39,257.00 956.94,257.05 957.46,256.95 957.97,256.84 958.49,256.61 959.01,256.53 960.56,256.57 961.08,256.52 961.59,256.50 962.11,256.68 962.63,257.30 964.18,258.23 964.69,259.40 965.21,260.30 965.73,261.06 966.24,261.94 967.79,262.78 968.31,264.16 969.34,265.66 969.86,267.25 971.41,269.05 971.93,270.63 972.96,271.36 973.48,271.94 975.03,272.65 975.55,273.72 976.06,274.72 977.10,276.04 978.65,277.18 979.16,278.36 979.68,279.47 980.71,280.02 982.78,279.67 983.30,279.19 983.81,278.82 984.33,278.72 985.88,278.79 986.40,278.61 986.92,278.15 987.43,277.75 987.95,277.34 989.50,276.86 990.02,276.23 990.53,275.65 991.05,274.98 991.57,274.20 993.12,273.56 993.63,273.49 994.15,273.69 994.67,273.97 995.18,273.90 997.25,273.95 997.77,274.14 998.28,274.51 998.80,275.02 1000.35,275.70 1000.87,276.65 1001.39,278.53 1001.90,280.66 1002.42,282.57 1003.97,284.31 1004.49,285.45 1005.00,286.48 1005.52,287.78 1006.04,289.14 1007.59,290.64 1008.10,292.35 1008.62,294.12 1009.14,295.84 1009.65,297.51 1011.72,298.88 1012.24,300.14 1012.76,301.42 1013.27,302.62 1014.82,303.78 1015.34,305.28 1015.86,306.46 1016.37,307.60 1016.89,308.57 1018.44,309.59 1018.96,310.41 1019.47,311.45 1019.99,312.53 1020.51,313.54 1022.06,314.33 1022.57,314.77 1023.09,315.26 1023.61,315.80 1024.12,316.33 1025.68,316.84 1026.19,317.18 1026.71,317.47 1027.23,317.84 1029.29,318.12 1029.81,318.22 1030.33,318.42 1030.84,318.67 1031.36,318.85 1032.91,318.87 1033.43,318.74 1033.94,318.29 1034.46,317.79 1034.98,316.99 1036.53,316.05 1037.04,314.74 1037.56,313.55 1038.08,311.92 1038.60,310.10 1040.15,307.94 1041.18,306.11 1041.70,304.14 1042.21,302.40 1043.76,300.38 1044.28,298.48 1044.80,296.24 1045.31,293.73 1045.83,290.66 1047.90,287.34 1048.41,284.39 1048.93,281.62 1049.45,279.02 1051.00,276.34 1051.52,273.41 1052.03,270.69 1052.55,267.81 1053.07,264.87 1054.62,261.63 1055.13,258.34 1055.65,255.26 1056.17,252.22 1056.68,248.80 1058.23,245.36 1058.75,241.86 1059.27,238.91 1060.30,235.72 1061.85,232.39 1062.37,228.90 1062.88,225.66 1063.40,222.41 1063.92,219.48 1065.47,216.85 1065.99,214.80 1066.50,213.01 1067.02,210.91 1069.09,209.34 1069.60,207.77 1070.12,206.17 1070.64,204.59 1072.70,202.36 1073.22,200.35 1073.74,198.29 1074.25,196.65 1074.77,195.16 1076.32,193.34 1076.84,191.52 1077.36,189.71 1077.87,188.32 1078.39,187.20 1079.94,186.09 1080.46,185.33 1080.97,185.07 1081.49,184.87 1082.01,185.00 1083.56,184.25 1084.07,183.31 1084.59,182.45 1085.11,181.66 1085.62,181.28 1087.17,180.57 1087.69,179.45 1088.21,178.54 1088.72,177.98 1089.24,177.55 1090.79,178.07 1091.31,179.11 1091.83,180.23 1092.34,180.84 1092.86,181.18 1094.41,181.52 1094.93,181.75 1095.44,182.30 1095.96,182.65 1096.48,182.79 1098.54,182.66 1099.06,182.32 1099.58,181.81 1100.09,181.08 1102.16,179.72 1102.68,179.09 1103.20,178.52 1103.71,177.35 1105.26,175.29 1105.78,172.66 1106.30,170.08 1106.81,167.16 1107.33,163.64 1108.88,160.02 1109.40,156.55 1110.43,153.31 1110.95,149.45 1112.50,145.77 1113.01,142.56 1114.05,138.98 1114.56,135.44 1116.12,132.27 1116.63,128.76 1117.67,124.93 1118.18,121.22 1119.73,116.12 1120.25,110.37 1120.77,104.97 1121.28,100.14 1121.80,96.52"/>
<polyline fill="none" stroke="#800080" stroke-width="2.2" stroke-linejoin="round" stroke-linecap="square" points="288.20,403.81 289.24,403.49 289.75,403.14 291.30,402.81 291.82,402.47 292.34,402.11 292.85,401.75 293.37,401.38 295.44,400.97 295.95,400.56 296.47,400.15 296.99,399.73 298.54,399.32 299.05,398.90 299.57,398.49 300.09,398.08 300.60,397.68 302.16,397.31 302.67,396.95 303.19,396.61 303.71,396.27 304.22,395.95 305.77,395.61 306.29,395.27 306.81,394.94 307.32,394.61 307.84,394.27 309.39,393.93 309.91,393.60 310.42,393.27 310.94,392.93 311.46,392.59 313.52,392.29 314.04,391.97 314.56,391.68 315.08,391.38 316.63,391.09 317.14,390.79 317.66,390.52 318.18,390.24 320.24,389.96 320.76,389.66 321.28,389.36 321.79,389.05 322.31,388.74 323.86,388.42 324.38,388.09 324.89,387.75 325.41,387.43 325.93,387.11 327.48,386.81 328.00,386.52 328.51,386.22 329.03,385.92 329.55,385.62 331.10,385.32 331.61,385.02 332.13,384.72 332.65,384.44 333.16,384.16 334.71,383.91 335.23,383.66 335.75,383.42 336.26,383.17 336.78,382.91 338.33,382.61 338.85,382.30 339.36,382.00 339.88,381.69 340.40,381.38 341.95,381.00 342.47,380.60 342.98,380.15 343.50,379.71 344.02,379.26 346.08,378.77 346.60,378.25 347.12,377.73 347.63,377.19 349.70,376.61 350.22,376.01 350.73,375.46 351.25,374.96 352.80,374.52 353.32,374.06 353.84,373.61 354.35,373.16 354.87,372.76 356.42,372.36 356.94,371.97 357.45,371.58 357.97,371.21 358.49,370.84 360.04,370.46 360.55,370.11 361.07,369.75 361.59,369.42 362.10,369.07 363.65,368.58 364.17,368.08 364.69,367.59 365.20,367.09 365.72,366.61 367.27,366.15 367.79,365.64 368.31,365.14 368.82,364.66 369.34,364.20 370.89,363.72 371.41,363.31 371.92,362.92 372.44,362.55 372.96,362.16 374.51,361.69 375.02,361.22 375.54,360.75 376.06,360.28 376.57,359.79 378.64,359.28 379.16,358.76 379.68,358.25 380.19,357.73 381.74,357.23 382.26,356.75 382.78,356.29 383.29,355.83 383.81,355.38 385.36,355.03 385.88,354.64 386.39,354.27 387.43,353.92 388.98,353.58 389.49,353.26 390.01,352.97 390.53,352.71 391.04,352.45 392.60,352.19 393.11,351.96 393.63,351.72 394.15,351.47 394.66,351.25 396.21,351.05 396.73,350.86 397.25,350.67 397.76,350.47 398.28,350.26 399.83,350.08 400.35,349.91 400.86,349.74 401.38,349.55 403.45,349.30 403.96,349.05 404.48,348.82 405.00,348.62 405.52,348.43 407.07,348.22 407.58,348.05 408.62,347.86 409.13,347.67 410.68,347.48 411.20,347.29 411.72,347.08 412.23,346.88 412.75,346.69 414.82,346.50 415.33,346.36 415.85,346.25 416.37,346.16 417.92,346.09 418.44,346.06 418.95,346.06 419.47,346.04 419.99,346.01 421.54,345.93 422.05,345.82 422.57,345.72 423.09,345.65 423.60,345.57 425.15,345.44 425.67,345.30 426.19,345.16 426.70,345.01 427.22,344.86 428.77,344.74 429.29,344.65 429.80,344.57 430.32,344.47 430.84,344.38 432.91,344.27 433.42,344.17 433.94,344.07 434.46,343.97 436.01,343.83 436.52,343.70 437.04,343.55 437.56,343.42 439.62,343.24 440.14,343.01 440.66,342.77 441.17,342.56 441.69,342.37 443.24,342.22 443.76,342.08 444.28,341.91 444.79,341.70 445.31,341.49 446.86,341.28 447.38,341.05 447.89,340.87 448.41,340.69 448.93,340.53 450.48,340.39 450.99,340.24 451.51,340.11 452.03,339.96 452.54,339.81 454.09,339.64 454.61,339.42 455.13,339.17 455.64,338.90 456.16,338.65 457.71,338.35 458.23,338.07 458.75,337.78 459.26,337.52 461.33,337.25 461.85,336.98 462.36,336.74 462.88,336.51 463.40,336.33 464.95,336.19 465.46,336.05 465.98,335.88 466.50,335.72 467.01,335.56 469.08,335.38 469.60,335.24 470.12,335.09 470.63,334.96 472.18,334.87 472.70,334.79 473.22,334.75 473.73,334.71 474.25,334.66 475.80,334.57 476.32,334.48 476.83,334.40 477.35,334.33 477.87,334.25 479.42,334.16 479.93,334.05 480.45,333.94 480.97,333.81 481.48,333.67 483.55,333.52 484.07,333.35 484.59,333.18 485.10,332.99 486.65,332.79 487.17,332.59 487.69,332.38 488.20,332.16 488.72,331.97 490.27,331.86 490.79,331.78 491.30,331.73 491.82,331.69 492.34,331.65 494.40,331.65 494.92,331.66 495.44,331.73 495.96,331.81 497.51,331.92 498.02,332.06 499.06,332.20 499.57,332.39 501.64,332.63 502.16,332.87 502.67,333.11 503.19,333.38 504.74,333.69 505.26,333.95 505.77,334.15 506.29,334.31 506.81,334.46 508.36,334.58 508.88,334.70 509.39,334.78 509.91,334.89 510.43,335.00 511.98,335.07 512.49,335.13 513.01,335.17 513.53,335.20 514.04,335.23 515.59,335.29 516.11,335.34 516.63,335.41 517.14,335.62 517.66,335.85 519.21,336.04 519.73,336.24 520.24,336.46 520.76,336.65 521.28,336.89 522.83,337.15 523.35,337.40 523.86,337.66 524.38,337.94 524.90,338.19 526.45,338.38 526.96,338.53 527.48,338.66 528.51,338.85 530.06,339.03 530.58,339.19 531.10,339.38 531.61,339.61 532.13,339.84 534.20,340.02 534.72,340.19 535.23,340.37 535.75,340.50 537.30,340.63 537.82,340.74 538.33,340.86 538.85,340.98 539.37,341.06 540.92,341.22 541.43,341.39 541.95,341.57 542.47,341.77 542.98,341.97 544.53,342.13 545.05,342.27 545.57,342.39 546.08,342.52 546.60,342.65 548.15,342.74 548.67,342.83 549.19,342.91 549.70,342.99 550.22,343.06 551.77,343.14 552.29,343.25 552.80,343.37 553.32,343.49 553.84,343.60 555.39,343.68 555.90,343.76 556.42,343.89 556.94,344.02 559.00,344.11 559.52,344.19 560.04,344.28 560.56,344.41 561.07,344.51 562.62,344.64 563.14,344.81 563.66,344.96 564.17,345.07 564.69,345.16 566.24,345.26 566.76,345.32 567.27,345.38 567.79,345.38 568.31,345.37 569.86,345.34 570.37,345.31 570.89,345.26 571.41,345.20 571.92,345.16 573.48,345.12 573.99,345.13 574.51,345.14 575.54,345.12 577.09,345.08 577.61,345.03 578.13,345.04 578.64,345.06 579.16,345.11 580.71,345.19 581.23,345.26 581.74,345.31 582.26,345.34 582.78,345.35 584.33,345.38 584.84,345.43 585.36,345.51 585.88,345.61 586.40,345.73 588.46,345.88 588.98,346.06 589.50,346.24 590.01,346.40 592.08,346.52 592.60,346.72 593.11,346.92 593.63,347.16 595.70,347.37 596.21,347.57 596.73,347.70 597.25,347.82 598.80,347.92 599.32,348.06 599.83,348.19 600.35,348.34 600.87,348.52 602.93,348.68 603.45,348.84 603.97,348.97 604.48,349.08 606.03,349.20 606.55,349.30 607.07,349.40 607.58,349.51 608.10,349.62 609.65,349.75 610.17,349.89 610.68,350.04 611.20,350.18 611.72,350.37 613.27,350.58 613.79,350.79 614.30,350.99 614.82,351.17 615.34,351.35 616.89,351.51 617.40,351.63 617.92,351.72 618.95,351.77 621.02,351.85 621.54,351.95 622.05,352.03 622.57,352.12 624.12,352.20 624.64,352.26 625.16,352.31 625.67,352.33 626.19,352.30 627.74,352.28 628.26,352.25 628.77,352.22 629.29,352.23 629.81,352.27 631.36,352.35 631.87,352.42 632.39,352.49 632.91,352.54 633.42,352.60 634.97,352.66 635.49,352.75 636.01,352.84 636.52,352.95 637.04,353.07 638.59,353.17 639.11,353.28 639.63,353.39 640.14,353.50 640.66,353.61 642.21,353.76 642.73,353.89 643.24,353.99 643.76,353.98 645.83,353.96 646.34,353.93 646.86,353.92 647.38,353.90 647.89,353.85 649.96,353.81 650.48,353.79 651.00,353.79 651.51,353.80 653.06,353.78 653.58,353.77 654.10,353.74 654.61,353.70 655.13,353.66 656.68,353.63 657.20,353.62 657.71,353.56 658.23,353.52 658.75,353.47 660.30,353.40 660.81,353.33 661.33,353.30 661.85,353.28 662.36,353.25 663.92,353.22 664.43,353.19 664.95,353.21 665.47,353.25 665.98,353.30 667.53,353.35 668.05,353.39 668.57,353.43 669.08,353.48 669.60,353.54 671.67,353.59 672.18,353.61 672.70,353.62 673.22,353.63 674.77,353.59 675.28,353.56 675.80,353.53 676.32,353.48 676.84,353.41 678.39,353.31 679.42,353.19 679.94,353.08 680.45,353.01 682.52,352.98 683.04,353.00 683.55,353.04 684.07,353.09 685.62,353.14 686.14,353.17 686.65,353.20 687.17,353.23 687.69,353.31 689.24,353.41 690.27,353.53 690.79,353.65 691.31,353.74 692.86,353.78 693.37,353.80 693.89,353.82 694.41,353.82 694.92,353.78 696.47,353.73 696.99,353.64 697.51,353.55 698.02,353.45 698.54,353.37 700.09,353.28 700.61,353.21 701.12,353.13 701.64,353.07 702.16,353.03 703.71,352.96 704.23,352.90 704.74,352.83 705.26,352.76 705.78,352.65 707.33,352.53 707.84,352.39 708.36,352.25 709.39,352.11 710.94,352.00 711.46,351.91 711.98,351.81 712.49,351.70 713.01,351.62 714.56,351.52 715.08,351.42 715.60,351.32 716.11,351.21 716.63,351.08 718.18,350.91 718.70,350.76 719.21,350.61 719.73,350.48 720.25,350.33 722.31,350.18 722.83,350.03 723.35,349.93 723.86,349.81 725.41,349.66 725.93,349.48 726.45,349.27 726.96,349.06 727.48,348.81 729.03,348.59 729.55,348.38 730.07,348.19 730.58,347.97 731.10,347.73 732.65,347.48 733.17,347.22 733.68,346.96 734.20,346.70 734.72,346.43 736.27,346.20 736.78,345.98 737.30,345.76 737.82,345.53 739.88,345.32 740.40,345.09 740.92,344.89 741.44,344.69 741.95,344.48 743.50,344.24 744.02,344.00 744.54,343.77 745.05,343.55 745.57,343.31 747.12,343.06 747.64,342.82 748.15,342.59 748.67,342.38 749.19,342.16 750.74,341.92 751.25,341.69 751.77,341.48 752.29,341.27 752.80,341.09 754.36,340.91 754.87,340.73 755.39,340.55 755.91,340.36 756.42,340.17 757.97,339.96 758.49,339.76 759.01,339.55 759.52,339.34 760.04,339.11 761.59,338.89 762.11,338.66 762.62,338.44 763.66,338.24 765.21,338.05 765.72,337.84 766.24,337.60 766.76,337.34 767.28,337.10 769.34,336.87 769.86,336.64 770.38,336.40 770.89,336.16 772.44,335.90 772.96,335.64 773.48,335.32 773.99,334.99 774.51,334.67 776.06,334.38 776.58,334.12 777.09,333.83 777.61,333.52 778.13,333.21 780.20,332.88 780.71,332.52 781.23,332.17 781.75,331.82 783.81,331.47 784.33,331.14 784.85,330.76 785.36,330.37 786.91,329.92 787.43,329.46 787.95,328.96 788.46,328.42 788.98,327.88 791.05,327.35 791.56,326.81 792.08,326.30 792.60,325.82 794.15,325.37 794.67,324.95 795.18,324.51 795.70,324.09 796.22,323.61 797.77,323.06 798.28,322.51 798.80,321.96 799.83,321.44 801.38,320.93 801.90,320.40 802.42,319.92 802.93,319.44 803.45,318.97 805.00,318.51 805.52,318.08 806.04,317.64 806.55,317.21 807.07,316.79 809.14,316.41 809.65,316.05 810.17,315.70 810.69,315.32 812.24,314.94 812.75,314.57 813.27,314.20 813.79,313.84 814.30,313.50 815.85,313.13 816.37,312.74 816.89,312.31 817.40,311.93 817.92,311.57 819.47,311.25 819.99,310.91 820.51,310.57 821.02,310.23 821.54,309.90 823.09,309.51 823.61,309.13 824.12,308.74 824.64,308.32 825.16,307.93 826.71,307.58 827.22,307.21 827.74,306.85 828.26,306.49 830.84,306.08 831.36,305.66 831.88,305.28 832.39,304.90 833.94,304.52 834.46,304.14 834.98,303.77 835.49,303.41 836.01,303.02 837.56,302.66 838.08,302.30 838.59,301.94 839.11,301.59 839.63,301.24 841.18,300.89 841.69,300.53 842.21,300.16 842.73,299.77 843.24,299.34 844.80,298.89 845.31,298.46 845.83,298.08 846.35,297.69 846.86,297.28 848.41,296.85 848.93,296.42 849.45,295.98 849.96,295.54 850.48,295.10 852.03,294.66 852.55,294.22 853.06,293.78 853.58,293.30 854.10,292.82 855.65,292.33 856.16,291.88 856.68,291.47 857.20,291.04 857.72,290.58 860.30,290.11 860.82,289.66 861.33,289.22 862.88,288.80 863.40,288.42 863.92,288.06 864.43,287.71 864.95,287.36 866.50,287.03 867.02,286.70 867.53,286.38 868.05,286.07 868.57,285.74 870.12,285.42 870.64,285.12 871.67,284.82 872.19,284.54 873.74,284.28 874.25,284.03 874.77,283.76 875.29,283.51 875.80,283.27 877.35,283.04 877.87,282.79 878.39,282.54 879.42,282.29 880.97,282.04 881.49,281.79 882.00,281.54 882.52,281.30 883.04,281.06 884.59,280.85 885.11,280.68 885.62,280.53 886.14,280.43 886.66,280.36 888.21,280.31 888.72,280.27 889.24,280.20 890.27,280.10 891.82,279.97 892.34,279.83 892.86,279.66 893.37,279.62 893.89,279.58 895.44,279.57 895.96,279.53 896.48,279.49 896.99,279.45 897.51,279.43 899.06,279.41 899.58,279.37 900.09,279.32 900.61,279.28 901.13,279.25 902.68,279.22 903.19,279.17 903.71,279.10 904.23,279.02 904.74,278.96 906.29,278.92 906.81,278.89 907.33,278.88 907.84,278.86 908.36,278.84 910.43,278.88 910.95,278.95 911.46,279.03 911.98,279.13 913.53,279.22 914.05,279.30 914.56,279.34 915.08,279.40 915.60,279.47 917.15,279.52 917.66,279.57 918.18,279.62 918.70,279.63 920.76,279.54 921.28,279.44 921.80,279.36 922.32,279.29 922.83,279.21 924.38,279.09 924.90,278.95 925.42,278.83 925.93,278.71 926.45,278.59 928.00,278.50 928.52,278.41 929.03,278.32 929.55,278.23 930.07,278.12 931.62,277.90 932.13,277.70 932.65,277.51 933.17,277.29 933.68,277.07 935.24,276.88 935.75,276.70 936.27,276.54 936.79,276.36 937.30,276.15 938.85,275.98 939.37,275.83 939.89,275.75 940.40,275.70 940.92,275.72 942.47,275.76 942.99,275.79 943.50,275.79 944.02,275.79 944.54,275.76 946.09,275.75 946.60,275.73 947.12,275.67 947.64,275.63 949.71,275.52 950.22,275.41 950.74,275.35 951.26,275.30 951.77,275.27 953.32,275.26 953.84,275.23 954.36,275.20 955.39,275.12 956.94,275.08 957.46,274.98 957.97,274.89 958.49,274.75 959.01,274.65 960.56,274.58 961.08,274.51 961.59,274.40 962.11,274.30 962.63,274.20 964.18,274.17 964.69,274.19 965.21,274.19 965.73,274.18 966.24,274.18 967.79,274.18 968.31,274.22 969.34,274.27 969.86,274.33 971.41,274.38 971.93,274.39 972.96,274.30 973.48,274.18 975.03,274.07 975.55,274.01 976.06,273.98 977.10,273.99 978.65,274.00 979.16,274.00 979.68,274.03 980.71,274.02 982.78,273.89 983.30,273.77 983.81,273.69 984.33,273.68 985.88,273.80 986.40,273.90 986.92,273.96 987.43,274.02 987.95,274.09 989.50,274.14 990.02,274.16 990.53,274.19 991.05,274.21 991.57,274.19 993.12,274.17 993.63,274.16 994.15,274.14 994.67,274.14 995.18,274.12 997.25,274.15 997.77,274.22 998.28,274.32 998.80,274.45 1000.35,274.63 1000.87,274.81 1001.39,275.00 1001.90,275.21 1002.42,275.45 1003.97,275.74 1004.49,276.03 1005.00,276.31 1005.52,276.57 1006.04,276.85 1007.59,277.12 1008.10,277.43 1008.62,277.73 1009.14,278.07 1009.65,278.41 1011.72,278.70 1012.24,278.95 1012.76,279.18 1013.27,279.41 1014.82,279.68 1015.34,279.99 1015.86,280.30 1016.37,280.62 1016.89,280.91 1018.44,281.21 1018.96,281.48 1019.47,281.78 1019.99,282.08 1020.51,282.36 1022.06,282.65 1022.57,282.91 1023.09,283.18 1023.61,283.45 1024.12,283.72 1025.68,283.98 1026.19,284.24 1026.71,284.49 1027.23,284.73 1029.29,284.95 1029.81,285.15 1030.33,285.33 1030.84,285.50 1031.36,285.65 1032.91,285.79 1033.43,285.92 1033.94,286.08 1034.46,286.26 1034.98,286.45 1036.53,286.62 1037.04,286.76 1037.56,286.91 1038.08,287.00 1038.60,287.03 1040.15,287.01 1041.18,287.01 1041.70,286.97 1042.21,286.93 1043.76,286.84 1044.28,286.75 1044.80,286.65 1045.31,286.49 1045.83,286.29 1047.90,286.07 1048.41,285.79 1048.93,285.45 1049.45,285.10 1051.00,284.74 1051.52,284.35 1052.03,283.96 1052.55,283.55 1053.07,283.13 1054.62,282.69 1055.13,282.24 1055.65,281.78 1056.17,281.31 1056.68,280.82 1058.23,280.30 1058.75,279.79 1059.27,279.33 1060.30,278.86 1061.85,278.34 1062.37,277.82 1062.88,277.27 1063.40,276.72 1063.92,276.17 1065.47,275.56 1065.99,274.94 1066.50,274.32 1067.02,273.68 1069.09,273.12 1069.60,272.59 1070.12,272.07 1070.64,271.52 1072.70,270.90 1073.22,270.29 1073.74,269.67 1074.25,269.06 1074.77,268.48 1076.32,267.94 1076.84,267.38 1077.36,266.79 1077.87,266.25 1078.39,265.71 1079.94,265.25 1080.46,264.84 1080.97,264.43 1081.49,264.04 1082.01,263.68 1083.56,263.20 1084.07,262.72 1084.59,262.25 1085.11,261.79 1085.62,261.37 1087.17,260.99 1087.69,260.62 1088.21,260.29 1088.72,260.00 1089.24,259.72 1090.79,259.45 1091.31,259.22 1091.83,258.95 1092.34,258.64 1092.86,258.30 1094.41,257.91 1094.93,257.48 1095.44,257.06 1095.96,256.62 1096.48,256.15 1098.54,255.69 1099.06,255.23 1099.58,254.81 1100.09,254.37 1102.16,253.88 1102.68,253.35 1103.20,252.79 1103.71,252.18 1105.26,251.48 1105.78,250.83 1106.30,250.15 1106.81,249.44 1107.33,248.69 1108.88,247.94 1109.40,247.15 1110.43,246.44 1110.95,245.73 1112.50,245.04 1113.01,244.33 1114.05,243.55 1114.56,242.73 1116.12,241.93 1116.63,241.09 1117.67,240.16 1118.18,239.24 1119.73,238.14 1120.25,236.95 1120.77,235.77 1121.28,234.61 1121.80,233.52"/>
<line x1="86.5" y1="11.59" x2="1171.5" y2="11.59" stroke="#008000" stroke-opacity="0.7" stroke-width="1.39" stroke-dasharray="8.9,2.2,1.39,2.2"/>
<line x1="86.5" y1="348.40" x2="1171.5" y2="348.40" stroke="#ff0000" stroke-opacity="0.7" stroke-width="1.39" stroke-dasharray="8.9,2.2,1.39,2.2"/>
<line x1="1121.45" y1="10.5" x2="1121.45" y2="456.4" stroke="#ff0000" stroke-opacity="0.7" stroke-width="1.39" stroke-dasharray="5.1,2.2"/>
</g>
<g stroke="#000" stroke-width="1.1" fill="none">
<rect x="86.5" y="10.5" width="1085.0" height="445.9"/>
<rect x="86.5" y="471.6" width="1085.0" height="148.7"/>
<line x1="217.50" y1="456.4" x2="217.50" y2="461.3"/>
<line x1="217.50" y1="620.3" x2="217.50" y2="625.2"/>
<line x1="406.50" y1="456.4" x2="406.50" y2="461.3"/>
<line x1="406.50" y1="620.3" x2="406.50" y2="625.2"/>
<line x1="594.50" y1="456.4" x2="594.50" y2="461.3"/>
<line x1="594.50" y1="620.3" x2="594.50" y2="625.2"/>
<line x1="783.50" y1="456.4" x2="783.50" y2="461.3"/>
<line x1="783.50" y1="620.3" x2="783.50" y2="625.2"/>
<line x1="972.50" y1="456.4" x2="972.50" y2="461.3"/>
<line x1="972.50" y1="620.3" x2="972.50" y2="625.2"/>
<line x1="1161.50" y1="456.4" x2="1161.50" y2="461.3"/>
<line x1="1161.50" y1="620.3" x2="1161.50" y2="625.2"/>
<line x1="81.6" y1="428.50" x2="86.5" y2="428.50"/>
<line x1="81.6" y1="345.50" x2="86.5" y2="345.50"/>
<line x1="81.6" y1="263.50" x2="86.5" y2="263.50"/>
<line x1="81.6" y1="180.50" x2="86.5" y2="180.50"/>
<line x1="81.6" y1="97.50" x2="86.5" y2="97.50"/>
<line x1="81.6" y1="15.50" x2="86.5" y2="15.50"/>
<line x1="81.6" y1="620.30" x2="86.5" y2="620.30"/>
<line x1="81.6" y1="583.50" x2="86.5" y2="583.50"/>
<line x1="81.6" y1="547.50" x2="86.5" y2="547.50"/>
<line x1="81.6" y1="511.50" x2="86.5" y2="511.50"/>
<line x1="81.6" y1="475.50" x2="86.5" y2="475.50"/>
</g>
<g font-family="'Liberation Sans','WenQuanYi Zen Hei',sans-serif">
<text transform="translate(59.41,432.80) scale(1,0.930)" textLength="16.19" lengthAdjust="spacingAndGlyphs" font-size="13.50" fill="#000" fill-opacity="0.87">10</text>
<text transform="translate(59.41,349.80) scale(1,0.930)" textLength="16.19" lengthAdjust="spacingAndGlyphs" font-size="13.50" fill="#000" fill-opacity="0.87">20</text>
<text transform="translate(59.41,267.80) scale(1,0.930)" textLength="16.19" lengthAdjust="spacingAndGlyphs" font-size="13.50" fill="#000" fill-opacity="0.87">30</text>
<text transform="translate(59.41,184.80) scale(1,0.930)" textLength="16.19" lengthAdjust="spacingAndGlyphs" font-size="13.50" fill="#000" fill-opacity="0.87">40</text>
<text transform="translate(59.41,101.80) scale(1,0.930)" textLength="16.19" lengthAdjust="spacingAndGlyphs" font-size="13.50" fill="#000" fill-opacity="0.87">50</text>
<text transform="translate(59.41,19.80) scale(1,0.930)" textLength="16.19" lengthAdjust="spacingAndGlyphs" font-size="13.50" fill="#000" fill-opacity="0.87">60</text>
<text transform="translate(67.51,624.60) scale(1,0.930)" textLength="8.09" lengthAdjust="spacingAndGlyphs" font-size="13.50" fill="#000" fill-opacity="0.87">0</text>
<text transform="translate(27.03,587.80) scale(1,0.930)" textLength="48.57" lengthAdjust="spacingAndGlyphs" font-size="13.50" fill="#000" fill-opacity="0.87">200000</text>
<text transform="translate(27.03,551.80) scale(1,0.930)" textLength="48.57" lengthAdjust="spacingAndGlyphs" font-size="13.50" fill="#000" fill-opacity="0.87">400000</text>
<text transform="translate(27.03,515.80) scale(1,0.930)" textLength="48.57" lengthAdjust="spacingAndGlyphs" font-size="13.50" fill="#000" fill-opacity="0.87">600000</text>
<text transform="translate(27.03,479.80) scale(1,0.930)" textLength="48.57" lengthAdjust="spacingAndGlyphs" font-size="13.50" fill="#000" fill-opacity="0.87">800000</text>
<text transform="translate(191.19,638.90) scale(1,0.930)" textLength="52.62" lengthAdjust="spacingAndGlyphs" font-size="13.50" fill="#000" fill-opacity="0.87">2021-01</text>
<text transform="translate(380.19,638.90) scale(1,0.930)" textLength="52.62" lengthAdjust="spacingAndGlyphs" font-size="13.50" fill="#000" fill-opacity="0.87">2022-01</text>
<text transform="translate(568.19,638.90) scale(1,0.930)" textLength="52.62" lengthAdjust="spacingAndGlyphs" font-size="13.50" fill="#000" fill-opacity="0.87">2023-01</text>
<text transform="translate(757.19,638.90) scale(1,0.930)" textLength="52.62" lengthAdjust="spacingAndGlyphs" font-size="13.50" fill="#000" fill-opacity="0.87">2024-01</text>
<text transform="translate(946.19,638.90) scale(1,0.930)" textLength="52.62" lengthAdjust="spacingAndGlyphs" font-size="13.50" fill="#000" fill-opacity="0.87">2025-01</text>
<text transform="translate(1135.19,638.90) scale(1,0.930)" textLength="52.62" lengthAdjust="spacingAndGlyphs" font-size="13.50" fill="#000" fill-opacity="0.87">2026-01</text>
<text transform="translate(18.3,547.3) rotate(-90)" font-size="13.5" text-anchor="middle" textLength="43.68" lengthAdjust="spacingAndGlyphs" fill="#000">Volume</text>
<rect x="93.6" y="17.6" width="107.7" height="118.4" rx="2.8" fill="#ffffff" fill-opacity="0.8" stroke="#cccccc" stroke-width="1"/>
<line x1="97.2" y1="26.8" x2="126.9" y2="26.8" stroke="#000000" stroke-width="2.08"/>
<text transform="translate(137.20,32.20) scale(1,0.930)" textLength="33.16" lengthAdjust="spacingAndGlyphs" font-size="13.50" fill="#000" fill-opacity="0.87">Close</text>
<line x1="97.2" y1="46.8" x2="126.9" y2="46.8" stroke="#008000" stroke-width="2.0"/>
<text transform="translate(137.20,52.50) scale(1,0.930)" textLength="56.40" lengthAdjust="spacingAndGlyphs" font-size="13.50" fill="#000" fill-opacity="0.89">MA50[买]</text>
<line x1="97.2" y1="68.0" x2="126.9" y2="68.0" stroke="#ff0000" stroke-width="2.0"/>
<text transform="translate(137.20,73.10) scale(1,0.930)" textLength="56.40" lengthAdjust="spacingAndGlyphs" font-size="13.50" fill="#000" fill-opacity="0.89">MA25[卖]</text>
<line x1="97.2" y1="86.0" x2="126.9" y2="86.0" stroke="#800080" stroke-width="2.0"/>
<text transform="translate(137.20,91.40) scale(1,0.930)" textLength="42.90" lengthAdjust="spacingAndGlyphs" font-size="13.50" fill="#000" fill-opacity="0.87">MA200</text>
<polygon fill="#008000" points="112.00,95.50 101.60,116.30 122.40,116.30"/>
<polygon fill="#ff0000" points="112.00,136.00 101.60,115.20 122.40,115.20"/>
<text transform="translate(137.20,109.70) scale(1,0.930)" textLength="21.30" lengthAdjust="spacingAndGlyphs" font-size="13.50" fill="#000" fill-opacity="0.87">Buy</text>
<text transform="translate(137.20,128.80) scale(1,0.930)" textLength="22.10" lengthAdjust="spacingAndGlyphs" font-size="13.50" fill="#000" fill-opacity="0.87">Sell</text>
<rect x="972" y="332.4" width="181.4" height="104.6" rx="5" fill="#ffffff" fill-opacity="0.85" stroke="#ff0000" stroke-width="1.4"/>
<text transform="translate(1005.47,347.10) scale(1,0.920)" textLength="41.23" lengthAdjust="spacingAndGlyphs" font-size="15.28" fill="#ff0000" fill-opacity="0.87">53.29</text>
<text transform="translate(1051.28,347.10) scale(1,0.920)" textLength="41.23" lengthAdjust="spacingAndGlyphs" font-size="15.28" fill="#ff0000" fill-opacity="0.87">(-2.46</text>
<text transform="translate(1097.09,347.10) scale(1,0.920)" textLength="51.91" lengthAdjust="spacingAndGlyphs" font-size="15.28" fill="#ff0000" fill-opacity="0.87">-4.41%)</text>
<text transform="translate(1057.38,363.50) scale(1,0.920)" textLength="91.62" lengthAdjust="spacingAndGlyphs" font-size="15.28" fill="#ff0000" fill-opacity="0.87">19.65~60.48</text>
<text transform="translate(1009.44,379.60) scale(1,0.920)" textLength="139.56" lengthAdjust="spacingAndGlyphs" font-size="15.28" fill="#ff0000" fill-opacity="0.87">50.32/45.19/33.74</text>
<text transform="translate(1020.73,395.70) scale(1,0.920)" textLength="82.46" lengthAdjust="spacingAndGlyphs" font-size="15.28" fill="#ff0000" fill-opacity="0.87">2025-10-17</text>
<text transform="translate(1107.77,395.70) scale(1,0.920)" textLength="41.23" lengthAdjust="spacingAndGlyphs" font-size="15.28" fill="#ff0000" fill-opacity="0.87">04:00</text>
<text transform="translate(975.52,413.20) scale(1,0.920)" textLength="173.48" lengthAdjust="spacingAndGlyphs" font-size="15.28" fill="#ff0000" fill-opacity="0.88">+5.96/偏多/+4.20/-0.44</text>
<text transform="translate(1042.08,430.30) scale(1,0.920)" textLength="55.00" lengthAdjust="spacingAndGlyphs" font-size="15.28" fill="#ff0000" fill-opacity="0.97">连跌3天</text>
<text transform="translate(1101.67,430.30) scale(1,0.920)" textLength="47.33" lengthAdjust="spacingAndGlyphs" font-size="15.28" fill="#ff0000" fill-opacity="0.87">-8.39%</text>
<text x="85.90" y="675.90" textLength="30.31" lengthAdjust="spacingAndGlyphs" font-size="16.67" fill="#000" fill-opacity="0.82">URA</text>
<text x="121.21" y="675.90" textLength="71.68" lengthAdjust="spacingAndGlyphs" font-size="16.67" fill="#000" fill-opacity="0.96">交易次数:</text>
<text x="197.89" y="675.90" textLength="10.00" lengthAdjust="spacingAndGlyphs" font-size="16.67" fill="#000" fill-opacity="0.82">5</text>
<text x="85.90" y="696.00" textLength="105.02" lengthAdjust="spacingAndGlyphs" font-size="16.67" fill="#000" fill-opacity="0.97">策略总收益率:</text>
<text x="195.92" y="696.00" textLength="66.63" lengthAdjust="spacingAndGlyphs" font-size="16.67" fill="#000" fill-opacity="0.82">344.53%</text>
<text x="85.90" y="716.00" textLength="105.02" lengthAdjust="spacingAndGlyphs" font-size="16.67" fill="#000" fill-opacity="0.97">长期持有收益:</text>
<text x="195.92" y="716.00" textLength="66.63" lengthAdjust="spacingAndGlyphs" font-size="16.67" fill="#000" fill-opacity="0.82">472.40%</text>
<text x="85.90" y="736.00" textLength="71.68" lengthAdjust="spacingAndGlyphs" font-size="16.67" fill="#000" fill-opacity="0.96">交易记录:</text>
<text transform="translate(95.90,751.00) scale(1,0.955)" textLength="26.31" lengthAdjust="spacingAndGlyphs" font-size="16.67" fill="#000" fill-opacity="0.82">Buy</text>
<text transform="translate(127.20,751.00) scale(1,0.955)" textLength="34.28" lengthAdjust="spacingAndGlyphs" font-size="16.67" fill="#000" fill-opacity="0.82">Date</text>
<text transform="translate(171.48,751.00) scale(1,0.955)" textLength="26.31" lengthAdjust="spacingAndGlyphs" font-size="16.67" fill="#000" fill-opacity="0.82">Buy</text>
<text transform="translate(202.79,751.00) scale(1,0.955)" textLength="35.62" lengthAdjust="spacingAndGlyphs" font-size="16.67" fill="#000" fill-opacity="0.82">Price</text>
<text transform="translate(248.40,751.00) scale(1,0.955)" textLength="27.28" lengthAdjust="spacingAndGlyphs" font-size="16.67" fill="#000" fill-opacity="0.82">Sell</text>
<text transform="translate(280.68,751.00) scale(1,0.955)" textLength="34.28" lengthAdjust="spacingAndGlyphs" font-size="16.67" fill="#000" fill-opacity="0.82">Date</text>
<text transform="translate(324.96,751.00) scale(1,0.955)" textLength="27.28" lengthAdjust="spacingAndGlyphs" font-size="16.67" fill="#000" fill-opacity="0.82">Sell</text>
<text transform="translate(357.25,751.00) scale(1,0.955)" textLength="35.62" lengthAdjust="spacingAndGlyphs" font-size="16.67" fill="#000" fill-opacity="0.82">Price</text>
<text transform="translate(402.86,751.00) scale(1,0.955)" textLength="54.26" lengthAdjust="spacingAndGlyphs" font-size="16.67" fill="#000" fill-opacity="0.82">Holding</text>
<text transform="translate(462.12,751.00) scale(1,0.955)" textLength="35.64" lengthAdjust="spacingAndGlyphs" font-size="16.67" fill="#000" fill-opacity="0.82">Days</text>
<text transform="translate(507.75,751.00) scale(1,0.955)" textLength="37.95" lengthAdjust="spacingAndGlyphs" font-size="16.67" fill="#000" fill-opacity="0.82">Profit</text>
<text transform="translate(550.70,751.00) scale(1,0.955)" textLength="11.66" lengthAdjust="spacingAndGlyphs" font-size="16.67" fill="#000" fill-opacity="0.82">%</text>
<text transform="translate(85.90,769.80) scale(1,0.955)" textLength="89.96" lengthAdjust="spacingAndGlyphs" font-size="16.67" fill="#000" fill-opacity="0.82">2020-10-05</text>
<text transform="translate(210.84,769.80) scale(1,0.955)" textLength="34.98" lengthAdjust="spacingAndGlyphs" font-size="16.67" fill="#000" fill-opacity="0.82">9.31</text>
<text transform="translate(250.83,769.80) scale(1,0.955)" textLength="89.96" lengthAdjust="spacingAndGlyphs" font-size="16.67" fill="#000" fill-opacity="0.82">2021-01-21</text>
<text transform="translate(375.77,769.80) scale(1,0.955)" textLength="44.98" lengthAdjust="spacingAndGlyphs" font-size="16.67" fill="#000" fill-opacity="0.82">13.20</text>
<text transform="translate(475.73,769.80) scale(1,0.955)" textLength="29.99" lengthAdjust="spacingAndGlyphs" font-size="16.67" fill="#000" fill-opacity="0.82">108</text>
<text transform="translate(530.70,769.80) scale(1,0.955)" textLength="44.98" lengthAdjust="spacingAndGlyphs" font-size="16.67" fill="#000" fill-opacity="0.82">41.72</text>
<text transform="translate(85.90,787.00) scale(1,0.955)" textLength="89.96" lengthAdjust="spacingAndGlyphs" font-size="16.67" fill="#000" fill-opacity="0.82">2021-04-22</text>
<text transform="translate(205.85,787.00) scale(1,0.955)" textLength="44.98" lengthAdjust="spacingAndGlyphs" font-size="16.67" fill="#000" fill-opacity="0.82">16.07</text>
<text transform="translate(255.82,787.00) scale(1,0.955)" textLength="89.96" lengthAdjust="spacingAndGlyphs" font-size="16.67" fill="#000" fill-opacity="0.82">2021-09-24</text>
<text transform="translate(380.77,787.00) scale(1,0.955)" textLength="44.98" lengthAdjust="spacingAndGlyphs" font-size="16.67" fill="#000" fill-opacity="0.82">19.83</text>
<text transform="translate(480.73,787.00) scale(1,0.955)" textLength="29.99" lengthAdjust="spacingAndGlyphs" font-size="16.67" fill="#000" fill-opacity="0.82">155</text>
<text transform="translate(535.70,787.00) scale(1,0.955)" textLength="44.98" lengthAdjust="spacingAndGlyphs" font-size="16.67" fill="#000" fill-opacity="0.82">23.40</text>
<text transform="translate(85.90,803.70) scale(1,0.955)" textLength="89.96" lengthAdjust="spacingAndGlyphs" font-size="16.67" fill="#000" fill-opacity="0.82">2021-11-22</text>
<text transform="translate(205.85,803.70) scale(1,0.955)" textLength="44.98" lengthAdjust="spacingAndGlyphs" font-size="16.67" fill="#000" fill-opacity="0.82">22.41</text>
<text transform="translate(255.82,803.70) scale(1,0.955)" textLength="89.96" lengthAdjust="spacingAndGlyphs" font-size="16.67" fill="#000" fill-opacity="0.82">2024-02-09</text>
<text transform="translate(380.77,803.70) scale(1,0.955)" textLength="44.98" lengthAdjust="spacingAndGlyphs" font-size="16.67" fill="#000" fill-opacity="0.82">28.96</text>
<text transform="translate(480.73,803.70) scale(1,0.955)" textLength="29.99" lengthAdjust="spacingAndGlyphs" font-size="16.67" fill="#000" fill-opacity="0.82">809</text>
<text transform="translate(535.70,803.70) scale(1,0.955)" textLength="44.98" lengthAdjust="spacingAndGlyphs" font-size="16.67" fill="#000" fill-opacity="0.82">29.23</text>
<text transform="translate(85.90,821.20) scale(1,0.955)" textLength="89.96" lengthAdjust="spacingAndGlyphs" font-size="16.67" fill="#000" fill-opacity="0.82">2024-02-13</text>
<text transform="translate(205.85,821.20) scale(1,0.955)" textLength="44.98" lengthAdjust="spacingAndGlyphs" font-size="16.67" fill="#000" fill-opacity="0.82">27.96</text>
<text transform="translate(255.82,821.20) scale(1,0.955)" textLength="89.96" lengthAdjust="spacingAndGlyphs" font-size="16.67" fill="#000" fill-opacity="0.82">2025-08-01</text>
<text transform="translate(380.77,821.20) scale(1,0.955)" textLength="44.98" lengthAdjust="spacingAndGlyphs" font-size="16.67" fill="#000" fill-opacity="0.82">38.20</text>
<text transform="translate(480.73,821.20) scale(1,0.955)" textLength="29.99" lengthAdjust="spacingAndGlyphs" font-size="16.67" fill="#000" fill-opacity="0.82">534</text>
<text transform="translate(535.70,821.20) scale(1,0.955)" textLength="44.98" lengthAdjust="spacingAndGlyphs" font-size="16.67" fill="#000" fill-opacity="0.82">36.64</text>
<text transform="translate(85.90,837.90) scale(1,0.955)" textLength="89.96" lengthAdjust="spacingAndGlyphs" font-size="16.67" fill="#000" fill-opacity="0.82">2025-08-19</text>
<text transform="translate(205.85,837.90) scale(1,0.955)" textLength="44.98" lengthAdjust="spacingAndGlyphs" font-size="16.67" fill="#000" fill-opacity="0.82">37.02</text>
<text transform="translate(255.82,837.90) scale(1,0.955)" textLength="89.96" lengthAdjust="spacingAndGlyphs" font-size="16.67" fill="#000" fill-opacity="0.82">2025-10-17</text>
<text transform="translate(380.77,837.90) scale(1,0.955)" textLength="44.98" lengthAdjust="spacingAndGlyphs" font-size="16.67" fill="#000" fill-opacity="0.82">53.29</text>
<text transform="translate(485.72,837.90) scale(1,0.955)" textLength="19.99" lengthAdjust="spacingAndGlyphs" font-size="16.67" fill="#000" fill-opacity="0.82">59</text>
<text transform="translate(530.70,837.90) scale(1,0.955)" textLength="44.98" lengthAdjust="spacingAndGlyphs" font-size="16.67" fill="#000" fill-opacity="0.82">43.95</text>
</g>
</svg>
</body></html>
